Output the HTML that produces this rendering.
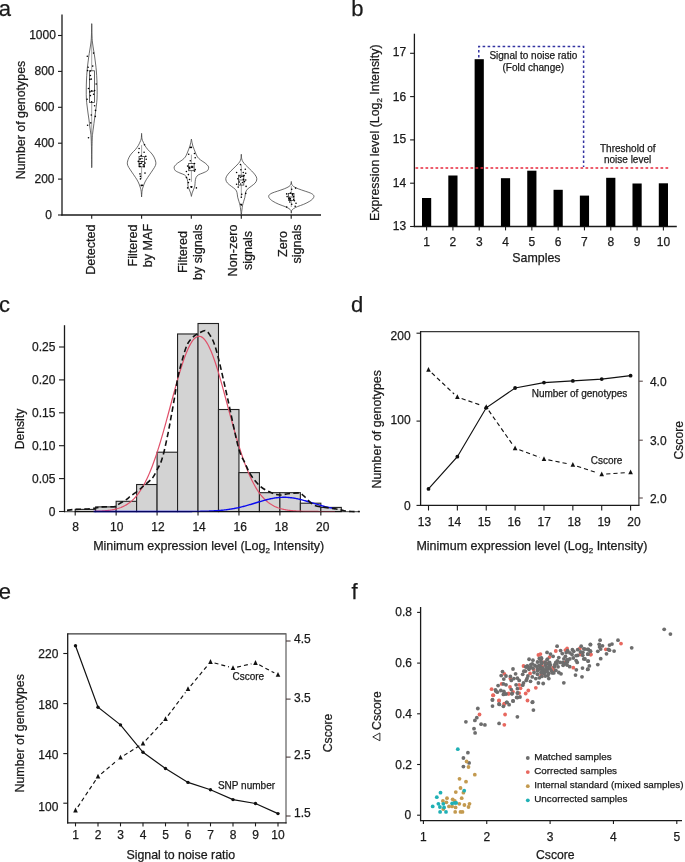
<!DOCTYPE html>
<html><head><meta charset="utf-8"><style>
html,body{margin:0;padding:0;background:#fff;}
body{width:685px;height:862px;overflow:hidden;}
svg{display:block;font-family:"Liberation Sans", sans-serif;will-change:transform;}
text{stroke:#1a1a1a;stroke-width:0.25px;}
</style></head><body>
<svg width="685" height="862" viewBox="0 0 685 862">
<rect width="685" height="862" fill="#fff"/>
<text x="-1.20" y="15.80" font-size="22" text-anchor="start" fill="#1a1a1a">a</text>
<text x="351.20" y="16.30" font-size="22" text-anchor="start" fill="#1a1a1a">b</text>
<text x="-1.00" y="311.80" font-size="22" text-anchor="start" fill="#1a1a1a">c</text>
<text x="350.90" y="312.10" font-size="22" text-anchor="start" fill="#1a1a1a">d</text>
<text x="-1.30" y="599.00" font-size="22" text-anchor="start" fill="#1a1a1a">e</text>
<text x="351.60" y="598.60" font-size="22" text-anchor="start" fill="#1a1a1a">f</text>
<line x1="62.00" y1="14.60" x2="62.00" y2="215.60" stroke="#1a1a1a" stroke-width="1.3"/>
<line x1="61.40" y1="215.00" x2="321.00" y2="215.00" stroke="#1a1a1a" stroke-width="1.3"/>
<line x1="58.00" y1="215.00" x2="62.00" y2="215.00" stroke="#1a1a1a" stroke-width="1.1"/>
<text x="52.00" y="219.00" font-size="12" text-anchor="end" fill="#1a1a1a">0</text>
<line x1="58.00" y1="179.10" x2="62.00" y2="179.10" stroke="#1a1a1a" stroke-width="1.1"/>
<text x="54.50" y="183.10" font-size="12" text-anchor="end" fill="#1a1a1a">200</text>
<line x1="58.00" y1="143.20" x2="62.00" y2="143.20" stroke="#1a1a1a" stroke-width="1.1"/>
<text x="54.50" y="146.90" font-size="12" text-anchor="end" fill="#1a1a1a">400</text>
<line x1="58.00" y1="107.30" x2="62.00" y2="107.30" stroke="#1a1a1a" stroke-width="1.1"/>
<text x="54.50" y="111.00" font-size="12" text-anchor="end" fill="#1a1a1a">600</text>
<line x1="58.00" y1="71.40" x2="62.00" y2="71.40" stroke="#1a1a1a" stroke-width="1.1"/>
<text x="54.50" y="74.80" font-size="12" text-anchor="end" fill="#1a1a1a">800</text>
<line x1="58.00" y1="35.50" x2="62.00" y2="35.50" stroke="#1a1a1a" stroke-width="1.1"/>
<text x="55.90" y="38.70" font-size="12" text-anchor="end" fill="#1a1a1a">1000</text>
<text x="25.20" y="120.00" font-size="12.4" text-anchor="middle" fill="#1a1a1a" transform="rotate(-90 25.2 120.0)">Number of genotypes</text>
<line x1="91.70" y1="215.00" x2="91.70" y2="218.80" stroke="#1a1a1a" stroke-width="1.1"/>
<line x1="141.60" y1="215.00" x2="141.60" y2="218.80" stroke="#1a1a1a" stroke-width="1.1"/>
<line x1="191.30" y1="215.00" x2="191.30" y2="218.80" stroke="#1a1a1a" stroke-width="1.1"/>
<line x1="241.30" y1="215.00" x2="241.30" y2="218.80" stroke="#1a1a1a" stroke-width="1.1"/>
<line x1="291.20" y1="215.00" x2="291.20" y2="218.80" stroke="#1a1a1a" stroke-width="1.1"/>
<text x="94.80" y="249.60" font-size="12.6" text-anchor="middle" fill="#1a1a1a" transform="rotate(-90 94.8 249.60000000000002)">Detected</text>
<text x="137.20" y="245.50" font-size="12.6" text-anchor="middle" fill="#1a1a1a" transform="rotate(-90 137.2 245.5)">Filtered</text>
<text x="151.90" y="245.50" font-size="12.6" text-anchor="middle" fill="#1a1a1a" transform="rotate(-90 151.9 245.5)">by MAF</text>
<text x="186.90" y="252.10" font-size="12.6" text-anchor="middle" fill="#1a1a1a" transform="rotate(-90 186.9 252.10000000000002)">Filtered</text>
<text x="201.60" y="252.10" font-size="12.6" text-anchor="middle" fill="#1a1a1a" transform="rotate(-90 201.60000000000002 252.10000000000002)">by signals</text>
<text x="236.90" y="250.50" font-size="12.6" text-anchor="middle" fill="#1a1a1a" transform="rotate(-90 236.9 250.5)">Non-zero</text>
<text x="251.60" y="250.50" font-size="12.6" text-anchor="middle" fill="#1a1a1a" transform="rotate(-90 251.60000000000002 250.5)">signals</text>
<text x="286.80" y="243.95" font-size="12.6" text-anchor="middle" fill="#1a1a1a" transform="rotate(-90 286.8 243.95000000000002)">Zero</text>
<text x="301.50" y="243.95" font-size="12.6" text-anchor="middle" fill="#1a1a1a" transform="rotate(-90 301.5 243.95000000000002)">signals</text>
<path d="M91.70,23.70 C91.74,25.58 91.83,31.95 91.95,35.00 C92.07,38.05 92.12,39.50 92.40,42.00 C92.68,44.50 93.22,47.50 93.60,50.00 C93.98,52.50 94.37,54.67 94.70,57.00 C95.03,59.33 95.33,61.67 95.60,64.00 C95.88,66.33 96.13,68.33 96.35,71.00 C96.57,73.67 96.77,76.83 96.90,80.00 C97.03,83.17 97.13,86.83 97.15,90.00 C97.17,93.17 97.14,96.33 97.00,99.00 C96.86,101.67 96.57,103.67 96.30,106.00 C96.03,108.33 95.72,110.67 95.40,113.00 C95.08,115.33 94.72,117.67 94.40,120.00 C94.08,122.33 93.78,124.83 93.50,127.00 C93.22,129.17 92.92,131.00 92.70,133.00 C92.48,135.00 92.33,136.17 92.20,139.00 C92.07,141.83 91.98,145.23 91.90,150.00 C91.82,154.77 91.73,164.67 91.70,167.60 L91.70,167.60 C91.67,164.67 91.58,154.77 91.50,150.00 C91.42,145.23 91.33,141.83 91.20,139.00 C91.07,136.17 90.92,135.00 90.70,133.00 C90.48,131.00 90.18,129.17 89.90,127.00 C89.62,124.83 89.32,122.33 89.00,120.00 C88.68,117.67 88.32,115.33 88.00,113.00 C87.68,110.67 87.37,108.33 87.10,106.00 C86.83,103.67 86.54,101.67 86.40,99.00 C86.26,96.33 86.23,93.17 86.25,90.00 C86.27,86.83 86.37,83.17 86.50,80.00 C86.63,76.83 86.83,73.67 87.05,71.00 C87.27,68.33 87.52,66.33 87.80,64.00 C88.08,61.67 88.37,59.33 88.70,57.00 C89.03,54.67 89.42,52.50 89.80,50.00 C90.18,47.50 90.72,44.50 91.00,42.00 C91.28,39.50 91.33,38.05 91.45,35.00 C91.57,31.95 91.66,25.58 91.70,23.70 Z" fill="none" stroke="#3a3a3a" stroke-width="0.75"/>
<line x1="91.70" y1="23.70" x2="91.70" y2="70.80" stroke="#666" stroke-width="0.6"/>
<line x1="91.70" y1="102.50" x2="91.70" y2="167.60" stroke="#666" stroke-width="0.6"/>
<rect x="89.50" y="70.80" width="5.10" height="31.70" fill="none" stroke="#333" stroke-width="0.75"/>
<line x1="89.50" y1="91.20" x2="94.60" y2="91.20" stroke="#333" stroke-width="0.75"/>
<path d="M141.60,133.40 C141.67,134.32 141.72,137.43 142.00,138.90 C142.28,140.37 142.82,141.10 143.30,142.20 C143.78,143.30 144.13,144.25 144.90,145.50 C145.67,146.75 146.85,148.45 147.90,149.70 C148.95,150.95 150.17,151.75 151.20,153.00 C152.23,154.25 153.33,155.67 154.10,157.20 C154.87,158.73 155.58,160.80 155.80,162.20 C156.02,163.60 155.88,164.33 155.40,165.60 C154.92,166.87 153.88,168.27 152.90,169.80 C151.92,171.33 150.62,173.13 149.50,174.80 C148.38,176.47 147.10,178.27 146.20,179.80 C145.30,181.33 144.68,182.62 144.10,184.00 C143.52,185.38 143.05,186.85 142.70,188.10 C142.35,189.35 142.18,190.03 142.00,191.50 C141.82,192.97 141.67,196.00 141.60,196.90 L141.60,196.90 C141.53,196.00 141.38,192.97 141.20,191.50 C141.02,190.03 140.85,189.35 140.50,188.10 C140.15,186.85 139.68,185.38 139.10,184.00 C138.52,182.62 137.90,181.33 137.00,179.80 C136.10,178.27 134.82,176.47 133.70,174.80 C132.58,173.13 131.28,171.33 130.30,169.80 C129.32,168.27 128.28,166.87 127.80,165.60 C127.32,164.33 127.18,163.60 127.40,162.20 C127.62,160.80 128.33,158.73 129.10,157.20 C129.87,155.67 130.97,154.25 132.00,153.00 C133.03,151.75 134.25,150.95 135.30,149.70 C136.35,148.45 137.53,146.75 138.30,145.50 C139.07,144.25 139.42,143.30 139.90,142.20 C140.38,141.10 140.92,140.37 141.20,138.90 C141.48,137.43 141.53,134.32 141.60,133.40 Z" fill="none" stroke="#3a3a3a" stroke-width="0.75"/>
<line x1="141.60" y1="145.10" x2="141.60" y2="156.40" stroke="#666" stroke-width="0.6"/>
<line x1="141.60" y1="166.80" x2="141.60" y2="178.90" stroke="#666" stroke-width="0.6"/>
<rect x="139.00" y="156.40" width="5.40" height="10.40" fill="none" stroke="#333" stroke-width="0.75"/>
<line x1="139.00" y1="161.50" x2="144.40" y2="161.50" stroke="#333" stroke-width="0.75"/>
<path d="M191.40,139.00 C191.50,139.57 191.75,141.20 192.00,142.40 C192.25,143.60 192.55,145.05 192.90,146.20 C193.25,147.35 193.65,148.15 194.10,149.30 C194.55,150.45 195.03,151.82 195.60,153.10 C196.17,154.38 196.67,155.85 197.50,157.00 C198.33,158.15 199.32,158.98 200.60,160.00 C201.88,161.02 203.93,162.08 205.20,163.10 C206.47,164.12 207.63,165.28 208.20,166.10 C208.77,166.92 208.73,167.23 208.60,168.00 C208.47,168.77 208.35,169.87 207.40,170.70 C206.45,171.53 204.42,172.30 202.90,173.00 C201.38,173.70 199.45,174.13 198.30,174.90 C197.15,175.67 196.52,176.52 196.00,177.60 C195.48,178.68 195.40,180.00 195.20,181.40 C195.00,182.80 195.05,184.72 194.80,186.00 C194.55,187.28 194.13,187.95 193.70,189.10 C193.27,190.25 192.58,191.68 192.20,192.90 C191.82,194.12 191.53,195.82 191.40,196.40 L191.40,196.40 C191.27,195.82 190.98,194.12 190.60,192.90 C190.22,191.68 189.53,190.25 189.10,189.10 C188.67,187.95 188.25,187.28 188.00,186.00 C187.75,184.72 187.80,182.80 187.60,181.40 C187.40,180.00 187.32,178.68 186.80,177.60 C186.28,176.52 185.65,175.67 184.50,174.90 C183.35,174.13 181.42,173.70 179.90,173.00 C178.38,172.30 176.35,171.53 175.40,170.70 C174.45,169.87 174.33,168.77 174.20,168.00 C174.07,167.23 174.03,166.92 174.60,166.10 C175.17,165.28 176.33,164.12 177.60,163.10 C178.87,162.08 180.92,161.02 182.20,160.00 C183.48,158.98 184.47,158.15 185.30,157.00 C186.13,155.85 186.63,154.38 187.20,153.10 C187.77,151.82 188.25,150.45 188.70,149.30 C189.15,148.15 189.55,147.35 189.90,146.20 C190.25,145.05 190.55,143.60 190.80,142.40 C191.05,141.20 191.30,139.57 191.40,139.00 Z" fill="none" stroke="#3a3a3a" stroke-width="0.75"/>
<line x1="191.40" y1="154.70" x2="191.40" y2="163.50" stroke="#666" stroke-width="0.6"/>
<line x1="191.40" y1="170.70" x2="191.40" y2="181.80" stroke="#666" stroke-width="0.6"/>
<rect x="188.70" y="163.50" width="5.40" height="7.20" fill="none" stroke="#333" stroke-width="0.75"/>
<line x1="188.70" y1="167.00" x2="194.10" y2="167.00" stroke="#333" stroke-width="0.75"/>
<path d="M241.30,154.30 C241.37,155.03 241.43,157.45 241.70,158.70 C241.97,159.95 242.25,160.75 242.90,161.80 C243.55,162.85 244.48,163.82 245.60,165.00 C246.72,166.18 248.28,167.58 249.60,168.90 C250.92,170.22 252.38,171.58 253.50,172.90 C254.62,174.22 255.77,175.62 256.30,176.80 C256.83,177.98 256.90,178.95 256.70,180.00 C256.50,181.05 256.02,182.05 255.10,183.10 C254.18,184.15 252.52,185.25 251.20,186.30 C249.88,187.35 248.13,188.35 247.20,189.40 C246.27,190.45 245.98,191.28 245.60,192.60 C245.22,193.92 245.22,195.85 244.90,197.30 C244.58,198.75 244.08,199.98 243.70,201.30 C243.32,202.62 242.90,203.75 242.60,205.20 C242.30,206.65 242.12,208.37 241.90,210.00 C241.68,211.63 241.40,214.17 241.30,215.00 L241.30,215.00 C241.20,214.17 240.92,211.63 240.70,210.00 C240.48,208.37 240.30,206.65 240.00,205.20 C239.70,203.75 239.28,202.62 238.90,201.30 C238.52,199.98 238.02,198.75 237.70,197.30 C237.38,195.85 237.38,193.92 237.00,192.60 C236.62,191.28 236.33,190.45 235.40,189.40 C234.47,188.35 232.72,187.35 231.40,186.30 C230.08,185.25 228.42,184.15 227.50,183.10 C226.58,182.05 226.10,181.05 225.90,180.00 C225.70,178.95 225.77,177.98 226.30,176.80 C226.83,175.62 227.98,174.22 229.10,172.90 C230.22,171.58 231.68,170.22 233.00,168.90 C234.32,167.58 235.88,166.18 237.00,165.00 C238.12,163.82 239.05,162.85 239.70,161.80 C240.35,160.75 240.63,159.95 240.90,158.70 C241.17,157.45 241.23,155.03 241.30,154.30 Z" fill="none" stroke="#3a3a3a" stroke-width="0.75"/>
<line x1="241.30" y1="165.00" x2="241.30" y2="175.20" stroke="#666" stroke-width="0.6"/>
<line x1="241.30" y1="185.10" x2="241.30" y2="197.30" stroke="#666" stroke-width="0.6"/>
<rect x="238.60" y="175.20" width="5.20" height="9.90" fill="none" stroke="#333" stroke-width="0.75"/>
<line x1="238.60" y1="180.00" x2="243.80" y2="180.00" stroke="#333" stroke-width="0.75"/>
<path d="M291.30,181.50 C291.37,181.95 291.32,183.37 291.70,184.20 C292.08,185.03 292.50,185.73 293.60,186.50 C294.70,187.27 296.37,188.02 298.30,188.80 C300.23,189.58 303.15,190.48 305.20,191.20 C307.25,191.92 309.18,192.40 310.60,193.10 C312.02,193.80 313.25,194.57 313.70,195.40 C314.15,196.23 313.95,197.13 313.30,198.10 C312.65,199.07 311.40,200.17 309.80,201.20 C308.20,202.23 305.75,203.40 303.70,204.30 C301.65,205.20 299.18,205.88 297.50,206.60 C295.82,207.32 294.57,207.95 293.60,208.60 C292.63,209.25 292.08,209.73 291.70,210.50 C291.32,211.27 291.37,212.75 291.30,213.20 L291.30,213.20 C291.23,212.75 291.28,211.27 290.90,210.50 C290.52,209.73 289.97,209.25 289.00,208.60 C288.03,207.95 286.78,207.32 285.10,206.60 C283.42,205.88 280.95,205.20 278.90,204.30 C276.85,203.40 274.40,202.23 272.80,201.20 C271.20,200.17 269.95,199.07 269.30,198.10 C268.65,197.13 268.45,196.23 268.90,195.40 C269.35,194.57 270.58,193.80 272.00,193.10 C273.42,192.40 275.35,191.92 277.40,191.20 C279.45,190.48 282.37,189.58 284.30,188.80 C286.23,188.02 287.90,187.27 289.00,186.50 C290.10,185.73 290.52,185.03 290.90,184.20 C291.28,183.37 291.23,181.95 291.30,181.50 Z" fill="none" stroke="#3a3a3a" stroke-width="0.75"/>
<line x1="291.30" y1="186.00" x2="291.30" y2="193.50" stroke="#666" stroke-width="0.6"/>
<line x1="291.30" y1="200.40" x2="291.30" y2="207.00" stroke="#666" stroke-width="0.6"/>
<rect x="288.60" y="193.50" width="5.40" height="6.90" fill="none" stroke="#333" stroke-width="0.75"/>
<line x1="288.60" y1="197.00" x2="294.00" y2="197.00" stroke="#333" stroke-width="0.75"/>
<circle cx="87.30" cy="56.20" r="0.8" fill="#000"/>
<circle cx="93.60" cy="53.10" r="0.8" fill="#000"/>
<circle cx="92.70" cy="66.10" r="0.8" fill="#000"/>
<circle cx="88.10" cy="67.30" r="0.8" fill="#000"/>
<circle cx="87.60" cy="70.60" r="0.8" fill="#000"/>
<circle cx="90.40" cy="71.00" r="0.8" fill="#000"/>
<circle cx="90.40" cy="75.50" r="0.8" fill="#000"/>
<circle cx="89.90" cy="79.40" r="0.8" fill="#000"/>
<circle cx="91.30" cy="79.10" r="0.8" fill="#000"/>
<circle cx="96.20" cy="84.00" r="0.8" fill="#000"/>
<circle cx="88.50" cy="88.50" r="0.8" fill="#000"/>
<circle cx="89.90" cy="91.90" r="0.8" fill="#000"/>
<circle cx="94.60" cy="90.50" r="0.8" fill="#000"/>
<circle cx="90.40" cy="95.60" r="0.8" fill="#000"/>
<circle cx="93.60" cy="94.20" r="0.8" fill="#000"/>
<circle cx="87.10" cy="99.30" r="0.8" fill="#000"/>
<circle cx="91.80" cy="90.90" r="0.8" fill="#000"/>
<circle cx="91.60" cy="101.90" r="0.8" fill="#000"/>
<circle cx="94.60" cy="105.80" r="0.8" fill="#000"/>
<circle cx="95.50" cy="110.40" r="0.8" fill="#000"/>
<circle cx="91.30" cy="115.00" r="0.8" fill="#000"/>
<circle cx="95.30" cy="116.40" r="0.8" fill="#000"/>
<circle cx="90.80" cy="122.90" r="0.8" fill="#000"/>
<circle cx="87.60" cy="125.30" r="0.8" fill="#000"/>
<circle cx="88.50" cy="137.80" r="0.8" fill="#000"/>
<circle cx="144.50" cy="144.70" r="0.8" fill="#000"/>
<circle cx="139.10" cy="148.50" r="0.8" fill="#000"/>
<circle cx="138.70" cy="152.60" r="0.8" fill="#000"/>
<circle cx="144.10" cy="152.20" r="0.8" fill="#000"/>
<circle cx="141.20" cy="155.60" r="0.8" fill="#000"/>
<circle cx="145.80" cy="156.40" r="0.8" fill="#000"/>
<circle cx="140.00" cy="159.30" r="0.8" fill="#000"/>
<circle cx="146.20" cy="159.30" r="0.8" fill="#000"/>
<circle cx="138.30" cy="161.40" r="0.8" fill="#000"/>
<circle cx="142.00" cy="161.80" r="0.8" fill="#000"/>
<circle cx="145.00" cy="163.10" r="0.8" fill="#000"/>
<circle cx="139.50" cy="163.90" r="0.8" fill="#000"/>
<circle cx="143.30" cy="164.70" r="0.8" fill="#000"/>
<circle cx="144.10" cy="166.80" r="0.8" fill="#000"/>
<circle cx="139.50" cy="166.40" r="0.8" fill="#000"/>
<circle cx="145.00" cy="173.10" r="0.8" fill="#000"/>
<circle cx="140.00" cy="173.90" r="0.8" fill="#000"/>
<circle cx="140.40" cy="176.40" r="0.8" fill="#000"/>
<circle cx="140.40" cy="178.90" r="0.8" fill="#000"/>
<circle cx="141.20" cy="185.20" r="0.8" fill="#000"/>
<circle cx="142.50" cy="185.20" r="0.8" fill="#000"/>
<circle cx="141.80" cy="185.60" r="0.8" fill="#000"/>
<circle cx="142.01" cy="158.43" r="0.7" fill="#000"/>
<circle cx="143.93" cy="166.01" r="0.7" fill="#000"/>
<circle cx="141.44" cy="163.30" r="0.7" fill="#000"/>
<circle cx="140.17" cy="158.71" r="0.7" fill="#000"/>
<circle cx="140.54" cy="163.60" r="0.7" fill="#000"/>
<circle cx="140.16" cy="166.50" r="0.7" fill="#000"/>
<circle cx="190.30" cy="147.40" r="0.8" fill="#000"/>
<circle cx="191.40" cy="147.40" r="0.8" fill="#000"/>
<circle cx="188.70" cy="154.30" r="0.8" fill="#000"/>
<circle cx="194.50" cy="153.50" r="0.8" fill="#000"/>
<circle cx="195.20" cy="157.70" r="0.8" fill="#000"/>
<circle cx="190.30" cy="160.80" r="0.8" fill="#000"/>
<circle cx="194.50" cy="163.50" r="0.8" fill="#000"/>
<circle cx="187.60" cy="166.10" r="0.8" fill="#000"/>
<circle cx="189.50" cy="167.70" r="0.8" fill="#000"/>
<circle cx="192.20" cy="166.90" r="0.8" fill="#000"/>
<circle cx="195.20" cy="169.60" r="0.8" fill="#000"/>
<circle cx="186.40" cy="171.50" r="0.8" fill="#000"/>
<circle cx="194.50" cy="171.10" r="0.8" fill="#000"/>
<circle cx="188.40" cy="174.60" r="0.8" fill="#000"/>
<circle cx="189.50" cy="179.50" r="0.8" fill="#000"/>
<circle cx="186.40" cy="177.60" r="0.8" fill="#000"/>
<circle cx="188.40" cy="182.60" r="0.8" fill="#000"/>
<circle cx="191.00" cy="186.80" r="0.8" fill="#000"/>
<circle cx="191.80" cy="186.80" r="0.8" fill="#000"/>
<circle cx="187.60" cy="187.90" r="0.8" fill="#000"/>
<circle cx="196.40" cy="187.90" r="0.8" fill="#000"/>
<circle cx="191.40" cy="187.30" r="0.8" fill="#000"/>
<circle cx="189.64" cy="167.93" r="0.7" fill="#000"/>
<circle cx="189.75" cy="168.63" r="0.7" fill="#000"/>
<circle cx="191.94" cy="166.27" r="0.7" fill="#000"/>
<circle cx="191.99" cy="167.58" r="0.7" fill="#000"/>
<circle cx="189.12" cy="167.32" r="0.7" fill="#000"/>
<circle cx="192.00" cy="167.24" r="0.7" fill="#000"/>
<circle cx="240.50" cy="164.60" r="0.8" fill="#000"/>
<circle cx="240.90" cy="169.70" r="0.8" fill="#000"/>
<circle cx="245.30" cy="169.30" r="0.8" fill="#000"/>
<circle cx="236.60" cy="172.50" r="0.8" fill="#000"/>
<circle cx="243.30" cy="172.50" r="0.8" fill="#000"/>
<circle cx="245.70" cy="173.30" r="0.8" fill="#000"/>
<circle cx="244.10" cy="175.60" r="0.8" fill="#000"/>
<circle cx="240.50" cy="177.20" r="0.8" fill="#000"/>
<circle cx="237.80" cy="178.80" r="0.8" fill="#000"/>
<circle cx="243.30" cy="179.20" r="0.8" fill="#000"/>
<circle cx="245.70" cy="180.00" r="0.8" fill="#000"/>
<circle cx="239.40" cy="182.00" r="0.8" fill="#000"/>
<circle cx="244.50" cy="181.60" r="0.8" fill="#000"/>
<circle cx="236.60" cy="184.30" r="0.8" fill="#000"/>
<circle cx="238.20" cy="187.10" r="0.8" fill="#000"/>
<circle cx="246.10" cy="186.40" r="0.8" fill="#000"/>
<circle cx="241.70" cy="194.20" r="0.8" fill="#000"/>
<circle cx="245.70" cy="193.40" r="0.8" fill="#000"/>
<circle cx="241.30" cy="197.30" r="0.8" fill="#000"/>
<circle cx="240.90" cy="204.40" r="0.8" fill="#000"/>
<circle cx="241.50" cy="204.90" r="0.8" fill="#000"/>
<circle cx="243.70" cy="179.72" r="0.7" fill="#000"/>
<circle cx="242.39" cy="182.48" r="0.7" fill="#000"/>
<circle cx="239.87" cy="175.97" r="0.7" fill="#000"/>
<circle cx="241.81" cy="176.41" r="0.7" fill="#000"/>
<circle cx="240.71" cy="184.01" r="0.7" fill="#000"/>
<circle cx="243.16" cy="176.38" r="0.7" fill="#000"/>
<circle cx="291.70" cy="189.20" r="0.8" fill="#000"/>
<circle cx="290.50" cy="193.10" r="0.8" fill="#000"/>
<circle cx="286.70" cy="193.90" r="0.8" fill="#000"/>
<circle cx="287.10" cy="196.60" r="0.8" fill="#000"/>
<circle cx="292.50" cy="194.60" r="0.8" fill="#000"/>
<circle cx="293.60" cy="196.60" r="0.8" fill="#000"/>
<circle cx="289.00" cy="198.50" r="0.8" fill="#000"/>
<circle cx="290.50" cy="200.10" r="0.8" fill="#000"/>
<circle cx="294.40" cy="200.80" r="0.8" fill="#000"/>
<circle cx="289.80" cy="202.00" r="0.8" fill="#000"/>
<circle cx="296.00" cy="203.20" r="0.8" fill="#000"/>
<circle cx="291.70" cy="204.30" r="0.8" fill="#000"/>
<circle cx="295.60" cy="188.10" r="0.8" fill="#000"/>
<circle cx="286.70" cy="207.00" r="0.8" fill="#000"/>
<circle cx="295.20" cy="206.30" r="0.8" fill="#000"/>
<circle cx="293.60" cy="199.52" r="0.7" fill="#000"/>
<circle cx="292.46" cy="195.07" r="0.7" fill="#000"/>
<circle cx="290.45" cy="198.43" r="0.7" fill="#000"/>
<circle cx="292.83" cy="193.62" r="0.7" fill="#000"/>
<circle cx="289.63" cy="199.68" r="0.7" fill="#000"/>
<circle cx="289.39" cy="198.02" r="0.7" fill="#000"/>
<line x1="414.40" y1="33.70" x2="414.40" y2="227.10" stroke="#1a1a1a" stroke-width="1.3"/>
<line x1="413.80" y1="226.50" x2="676.80" y2="226.50" stroke="#1a1a1a" stroke-width="1.3"/>
<line x1="410.10" y1="226.50" x2="414.40" y2="226.50" stroke="#1a1a1a" stroke-width="1.1"/>
<text x="406.20" y="230.00" font-size="12" text-anchor="end" fill="#1a1a1a">13</text>
<line x1="410.10" y1="183.20" x2="414.40" y2="183.20" stroke="#1a1a1a" stroke-width="1.1"/>
<text x="406.20" y="186.50" font-size="12" text-anchor="end" fill="#1a1a1a">14</text>
<line x1="410.10" y1="139.90" x2="414.40" y2="139.90" stroke="#1a1a1a" stroke-width="1.1"/>
<text x="406.20" y="143.00" font-size="12" text-anchor="end" fill="#1a1a1a">15</text>
<line x1="410.10" y1="96.60" x2="414.40" y2="96.60" stroke="#1a1a1a" stroke-width="1.1"/>
<text x="406.20" y="100.70" font-size="12" text-anchor="end" fill="#1a1a1a">16</text>
<line x1="410.10" y1="53.30" x2="414.40" y2="53.30" stroke="#1a1a1a" stroke-width="1.1"/>
<text x="406.20" y="55.50" font-size="12" text-anchor="end" fill="#1a1a1a">17</text>
<rect x="422.00" y="198.00" width="9.2" height="28.50" fill="#000"/>
<line x1="426.60" y1="226.50" x2="426.60" y2="230.40" stroke="#1a1a1a" stroke-width="1.1"/>
<text x="426.60" y="245.60" font-size="12" text-anchor="middle" fill="#1a1a1a">1</text>
<rect x="448.31" y="175.50" width="9.2" height="51.00" fill="#000"/>
<line x1="452.91" y1="226.50" x2="452.91" y2="230.40" stroke="#1a1a1a" stroke-width="1.1"/>
<text x="452.91" y="245.60" font-size="12" text-anchor="middle" fill="#1a1a1a">2</text>
<rect x="474.62" y="59.20" width="9.2" height="167.30" fill="#000"/>
<line x1="479.22" y1="226.50" x2="479.22" y2="230.40" stroke="#1a1a1a" stroke-width="1.1"/>
<text x="479.22" y="245.60" font-size="12" text-anchor="middle" fill="#1a1a1a">3</text>
<rect x="500.93" y="178.20" width="9.2" height="48.30" fill="#000"/>
<line x1="505.53" y1="226.50" x2="505.53" y2="230.40" stroke="#1a1a1a" stroke-width="1.1"/>
<text x="505.53" y="245.60" font-size="12" text-anchor="middle" fill="#1a1a1a">4</text>
<rect x="527.24" y="170.70" width="9.2" height="55.80" fill="#000"/>
<line x1="531.84" y1="226.50" x2="531.84" y2="230.40" stroke="#1a1a1a" stroke-width="1.1"/>
<text x="531.84" y="245.60" font-size="12" text-anchor="middle" fill="#1a1a1a">5</text>
<rect x="553.55" y="189.80" width="9.2" height="36.70" fill="#000"/>
<line x1="558.15" y1="226.50" x2="558.15" y2="230.40" stroke="#1a1a1a" stroke-width="1.1"/>
<text x="558.15" y="245.60" font-size="12" text-anchor="middle" fill="#1a1a1a">6</text>
<rect x="579.86" y="195.60" width="9.2" height="30.90" fill="#000"/>
<line x1="584.46" y1="226.50" x2="584.46" y2="230.40" stroke="#1a1a1a" stroke-width="1.1"/>
<text x="584.46" y="245.60" font-size="12" text-anchor="middle" fill="#1a1a1a">7</text>
<rect x="606.17" y="177.80" width="9.2" height="48.70" fill="#000"/>
<line x1="610.77" y1="226.50" x2="610.77" y2="230.40" stroke="#1a1a1a" stroke-width="1.1"/>
<text x="610.77" y="245.60" font-size="12" text-anchor="middle" fill="#1a1a1a">8</text>
<rect x="632.48" y="183.50" width="9.2" height="43.00" fill="#000"/>
<line x1="637.08" y1="226.50" x2="637.08" y2="230.40" stroke="#1a1a1a" stroke-width="1.1"/>
<text x="637.08" y="245.60" font-size="12" text-anchor="middle" fill="#1a1a1a">9</text>
<rect x="658.79" y="183.30" width="9.2" height="43.20" fill="#000"/>
<line x1="663.39" y1="226.50" x2="663.39" y2="230.40" stroke="#1a1a1a" stroke-width="1.1"/>
<text x="663.39" y="245.60" font-size="12" text-anchor="middle" fill="#1a1a1a">10</text>
<text x="536.40" y="262.40" font-size="12.4" text-anchor="middle" fill="#1a1a1a">Samples</text>
<text x="379.20" y="132.70" font-size="12.4" text-anchor="middle" fill="#1a1a1a" transform="rotate(-90 379.2 132.7)">Expression level (Log<tspan font-size="8" dy="3">2</tspan><tspan dy="-3"> Intensity)</tspan></text>
<line x1="415.50" y1="167.90" x2="668.50" y2="167.90" stroke="#e8283c" stroke-width="1.5" stroke-dasharray="2.7 2.3"/>
<path d="M478.80,57.60 L478.80,46.40 L583.60,46.40 L583.60,167.00" stroke="#3232a0" stroke-width="1.5" fill="none" stroke-dasharray="2.6 2.4"/>
<text x="533.30" y="59.00" font-size="10" text-anchor="middle" fill="#1a1a1a">Signal to noise ratio</text>
<text x="533.30" y="71.10" font-size="10" text-anchor="middle" fill="#1a1a1a">(Fold change)</text>
<text x="627.80" y="151.50" font-size="10" text-anchor="middle" fill="#1a1a1a">Threshold of</text>
<text x="627.60" y="163.40" font-size="10" text-anchor="middle" fill="#1a1a1a">noise level</text>
<line x1="64.50" y1="325.20" x2="64.50" y2="512.20" stroke="#1a1a1a" stroke-width="1.3"/>
<line x1="59.00" y1="511.50" x2="64.50" y2="511.50" stroke="#1a1a1a" stroke-width="1.1"/>
<text x="55.40" y="515.90" font-size="12" text-anchor="end" fill="#1a1a1a">0</text>
<line x1="59.00" y1="478.60" x2="64.50" y2="478.60" stroke="#1a1a1a" stroke-width="1.1"/>
<text x="55.40" y="483.00" font-size="12" text-anchor="end" fill="#1a1a1a">0.05</text>
<line x1="59.00" y1="445.70" x2="64.50" y2="445.70" stroke="#1a1a1a" stroke-width="1.1"/>
<text x="55.40" y="450.10" font-size="12" text-anchor="end" fill="#1a1a1a">0.10</text>
<line x1="59.00" y1="412.80" x2="64.50" y2="412.80" stroke="#1a1a1a" stroke-width="1.1"/>
<text x="55.40" y="417.20" font-size="12" text-anchor="end" fill="#1a1a1a">0.15</text>
<line x1="59.00" y1="379.90" x2="64.50" y2="379.90" stroke="#1a1a1a" stroke-width="1.1"/>
<text x="55.40" y="384.30" font-size="12" text-anchor="end" fill="#1a1a1a">0.20</text>
<line x1="59.00" y1="347.00" x2="64.50" y2="347.00" stroke="#1a1a1a" stroke-width="1.1"/>
<text x="55.40" y="351.40" font-size="12" text-anchor="end" fill="#1a1a1a">0.25</text>
<text x="24.10" y="429.00" font-size="12.2" text-anchor="middle" fill="#1a1a1a" transform="rotate(-90 24.1 429.0)">Density</text>
<rect x="75.20" y="509.39" width="20.47" height="2.21" fill="#d3d3d3" stroke="#222" stroke-width="1.1"/>
<rect x="95.67" y="506.89" width="20.47" height="4.71" fill="#d3d3d3" stroke="#222" stroke-width="1.1"/>
<rect x="116.14" y="501.30" width="20.47" height="10.30" fill="#d3d3d3" stroke="#222" stroke-width="1.1"/>
<rect x="136.61" y="484.52" width="20.47" height="27.08" fill="#d3d3d3" stroke="#222" stroke-width="1.1"/>
<rect x="157.08" y="452.21" width="20.47" height="59.39" fill="#d3d3d3" stroke="#222" stroke-width="1.1"/>
<rect x="177.55" y="333.97" width="20.47" height="177.63" fill="#d3d3d3" stroke="#222" stroke-width="1.1"/>
<rect x="198.02" y="323.51" width="20.47" height="188.09" fill="#d3d3d3" stroke="#222" stroke-width="1.1"/>
<rect x="218.49" y="409.51" width="20.47" height="102.09" fill="#d3d3d3" stroke="#222" stroke-width="1.1"/>
<rect x="238.96" y="472.61" width="20.47" height="38.99" fill="#d3d3d3" stroke="#222" stroke-width="1.1"/>
<rect x="259.43" y="492.68" width="20.47" height="18.92" fill="#d3d3d3" stroke="#222" stroke-width="1.1"/>
<rect x="279.90" y="492.68" width="20.47" height="18.92" fill="#d3d3d3" stroke="#222" stroke-width="1.1"/>
<rect x="300.37" y="503.21" width="20.47" height="8.39" fill="#d3d3d3" stroke="#222" stroke-width="1.1"/>
<rect x="320.84" y="507.42" width="20.47" height="4.18" fill="#d3d3d3" stroke="#222" stroke-width="1.1"/>
<line x1="75.20" y1="511.60" x2="75.20" y2="515.60" stroke="#1a1a1a" stroke-width="1.1"/>
<text x="75.50" y="531.20" font-size="12" text-anchor="middle" fill="#1a1a1a">8</text>
<line x1="116.14" y1="511.60" x2="116.14" y2="515.60" stroke="#1a1a1a" stroke-width="1.1"/>
<text x="116.70" y="531.20" font-size="12" text-anchor="middle" fill="#1a1a1a">10</text>
<line x1="157.08" y1="511.60" x2="157.08" y2="515.60" stroke="#1a1a1a" stroke-width="1.1"/>
<text x="157.90" y="531.20" font-size="12" text-anchor="middle" fill="#1a1a1a">12</text>
<line x1="198.02" y1="511.60" x2="198.02" y2="515.60" stroke="#1a1a1a" stroke-width="1.1"/>
<text x="199.10" y="531.20" font-size="12" text-anchor="middle" fill="#1a1a1a">14</text>
<line x1="238.96" y1="511.60" x2="238.96" y2="515.60" stroke="#1a1a1a" stroke-width="1.1"/>
<text x="240.30" y="531.20" font-size="12" text-anchor="middle" fill="#1a1a1a">16</text>
<line x1="279.90" y1="511.60" x2="279.90" y2="515.60" stroke="#1a1a1a" stroke-width="1.1"/>
<text x="281.50" y="531.20" font-size="12" text-anchor="middle" fill="#1a1a1a">18</text>
<line x1="320.84" y1="511.60" x2="320.84" y2="515.60" stroke="#1a1a1a" stroke-width="1.1"/>
<text x="322.70" y="531.20" font-size="12" text-anchor="middle" fill="#1a1a1a">20</text>
<path d="M93.62,511.32 L94.43,511.30 L95.23,511.27 L96.04,511.25 L96.84,511.22 L97.65,511.19 L98.45,511.16 L99.25,511.13 L100.06,511.09 L100.86,511.04 L101.67,511.00 L102.47,510.95 L103.28,510.89 L104.08,510.83 L104.89,510.77 L105.69,510.69 L106.49,510.62 L107.30,510.53 L108.10,510.44 L108.91,510.34 L109.71,510.23 L110.52,510.11 L111.32,509.99 L112.13,509.85 L112.93,509.70 L113.73,509.54 L114.54,509.37 L115.34,509.19 L116.15,508.99 L116.95,508.77 L117.76,508.54 L118.56,508.29 L119.37,508.03 L120.17,507.74 L120.98,507.44 L121.78,507.11 L122.58,506.76 L123.39,506.39 L124.19,505.99 L125.00,505.57 L125.80,505.12 L126.61,504.64 L127.41,504.13 L128.22,503.59 L129.02,503.02 L129.82,502.41 L130.63,501.77 L131.43,501.09 L132.24,500.37 L133.04,499.61 L133.85,498.81 L134.65,497.97 L135.46,497.08 L136.26,496.14 L137.06,495.16 L137.87,494.13 L138.67,493.05 L139.48,491.91 L140.28,490.73 L141.09,489.49 L141.89,488.19 L142.70,486.84 L143.50,485.43 L144.30,483.96 L145.11,482.43 L145.91,480.85 L146.72,479.20 L147.52,477.49 L148.33,475.72 L149.13,473.88 L149.94,471.98 L150.74,470.02 L151.54,468.00 L152.35,465.92 L153.15,463.77 L153.96,461.57 L154.76,459.30 L155.57,456.97 L156.37,454.59 L157.18,452.15 L157.98,449.65 L158.79,447.10 L159.59,444.50 L160.39,441.85 L161.20,439.15 L162.00,436.41 L162.81,433.62 L163.61,430.80 L164.42,427.94 L165.22,425.05 L166.03,422.13 L166.83,419.19 L167.63,416.22 L168.44,413.24 L169.24,410.25 L170.05,407.25 L170.85,404.24 L171.66,401.24 L172.46,398.24 L173.27,395.26 L174.07,392.29 L174.87,389.34 L175.68,386.42 L176.48,383.54 L177.29,380.69 L178.09,377.88 L178.90,375.13 L179.70,372.42 L180.51,369.78 L181.31,367.20 L182.11,364.70 L182.92,362.27 L183.72,359.92 L184.53,357.65 L185.33,355.48 L186.14,353.40 L186.94,351.43 L187.75,349.56 L188.55,347.79 L189.36,346.14 L190.16,344.61 L190.96,343.20 L191.77,341.91 L192.57,340.75 L193.38,339.71 L194.18,338.81 L194.99,338.05 L195.79,337.42 L196.60,336.92 L197.40,336.57 L198.20,336.35 L199.01,336.27 L199.81,336.34 L200.62,336.54 L201.42,336.89 L202.23,337.37 L203.03,337.99 L203.84,338.74 L204.64,339.63 L205.44,340.65 L206.25,341.80 L207.05,343.08 L207.86,344.48 L208.66,346.01 L209.47,347.65 L210.27,349.40 L211.08,351.26 L211.88,353.23 L212.68,355.30 L213.49,357.46 L214.29,359.72 L215.10,362.06 L215.90,364.49 L216.71,366.99 L217.51,369.56 L218.32,372.19 L219.12,374.89 L219.92,377.64 L220.73,380.44 L221.53,383.29 L222.34,386.17 L223.14,389.09 L223.95,392.03 L224.75,395.00 L225.56,397.98 L226.36,400.98 L227.17,403.98 L227.97,406.99 L228.77,409.99 L229.58,412.98 L230.38,415.97 L231.19,418.93 L231.99,421.88 L232.80,424.80 L233.60,427.69 L234.41,430.55 L235.21,433.38 L236.01,436.17 L236.82,438.91 L237.62,441.62 L238.43,444.27 L239.23,446.88 L240.04,449.43 L240.84,451.93 L241.65,454.38 L242.45,456.77 L243.25,459.10 L244.06,461.37 L244.86,463.58 L245.67,465.74 L246.47,467.82 L247.28,469.85 L248.08,471.82 L248.89,473.72 L249.69,475.56 L250.49,477.34 L251.30,479.05 L252.10,480.71 L252.91,482.30 L253.71,483.83 L254.52,485.31 L255.32,486.72 L256.13,488.08 L256.93,489.38 L257.74,490.62 L258.54,491.81 L259.34,492.95 L260.15,494.04 L260.95,495.07 L261.76,496.06 L262.56,497.00 L263.37,497.89 L264.17,498.74 L264.98,499.54 L265.78,500.31 L266.58,501.03 L267.39,501.71 L268.19,502.36 L269.00,502.97 L269.80,503.54 L270.61,504.09 L271.41,504.60 L272.22,505.08 L273.02,505.53 L273.82,505.96 L274.63,506.36 L275.43,506.73 L276.24,507.08 L277.04,507.41 L277.85,507.72 L278.65,508.00 L279.46,508.27 L280.26,508.52 L281.06,508.75 L281.87,508.97 L282.67,509.17 L283.48,509.36 L284.28,509.53 L285.09,509.69 L285.89,509.84 L286.70,509.98 L287.50,510.10 L288.30,510.22 L289.11,510.33 L289.91,510.43 L290.72,510.52 L291.52,510.61 L292.33,510.69 L293.13,510.76 L293.94,510.83 L294.74,510.89 L295.55,510.94 L296.35,510.99 L297.15,511.04 L297.96,511.08 L298.76,511.12 L299.57,511.16 L300.37,511.19 L301.18,511.22 L301.98,511.25 L302.79,511.27 L303.59,511.29 L304.39,511.32 L305.20,511.33 L306.00,511.35 L306.81,511.37 L307.61,511.38 L308.42,511.39 L309.22,511.40 L310.03,511.41 L310.83,511.42 L311.63,511.43 L312.44,511.44 L313.24,511.44 L314.05,511.45 L314.85,511.46 L315.66,511.46 L316.46,511.46 L317.27,511.47 L318.07,511.47 L318.87,511.48 L319.68,511.48 L320.48,511.48 L321.29,511.48 L322.09,511.48 L322.90,511.49 L323.70,511.49 L324.51,511.49 L325.31,511.49 L326.12,511.49 L326.92,511.49 L327.72,511.49 L328.53,511.49 L329.33,511.50 L330.14,511.50 L330.94,511.50 L331.75,511.50 L332.55,511.50 L333.36,511.50 L334.16,511.50 L334.96,511.50" stroke="#e0506a" stroke-width="1.2" fill="none"/>
<path d="M93.62,511.50 L94.43,511.50 L95.23,511.50 L96.04,511.50 L96.84,511.50 L97.65,511.50 L98.45,511.50 L99.25,511.50 L100.06,511.50 L100.86,511.50 L101.67,511.50 L102.47,511.50 L103.28,511.50 L104.08,511.50 L104.89,511.50 L105.69,511.50 L106.49,511.50 L107.30,511.50 L108.10,511.50 L108.91,511.50 L109.71,511.50 L110.52,511.50 L111.32,511.50 L112.13,511.50 L112.93,511.50 L113.73,511.50 L114.54,511.50 L115.34,511.50 L116.15,511.50 L116.95,511.50 L117.76,511.50 L118.56,511.50 L119.37,511.50 L120.17,511.50 L120.98,511.50 L121.78,511.50 L122.58,511.50 L123.39,511.50 L124.19,511.50 L125.00,511.50 L125.80,511.50 L126.61,511.50 L127.41,511.50 L128.22,511.50 L129.02,511.50 L129.82,511.50 L130.63,511.50 L131.43,511.50 L132.24,511.50 L133.04,511.50 L133.85,511.50 L134.65,511.50 L135.46,511.50 L136.26,511.50 L137.06,511.50 L137.87,511.50 L138.67,511.50 L139.48,511.50 L140.28,511.50 L141.09,511.50 L141.89,511.50 L142.70,511.50 L143.50,511.50 L144.30,511.50 L145.11,511.50 L145.91,511.50 L146.72,511.50 L147.52,511.50 L148.33,511.50 L149.13,511.50 L149.94,511.50 L150.74,511.50 L151.54,511.50 L152.35,511.50 L153.15,511.50 L153.96,511.50 L154.76,511.50 L155.57,511.50 L156.37,511.50 L157.18,511.50 L157.98,511.50 L158.79,511.50 L159.59,511.50 L160.39,511.50 L161.20,511.50 L162.00,511.50 L162.81,511.50 L163.61,511.50 L164.42,511.50 L165.22,511.50 L166.03,511.50 L166.83,511.50 L167.63,511.50 L168.44,511.50 L169.24,511.50 L170.05,511.50 L170.85,511.50 L171.66,511.49 L172.46,511.49 L173.27,511.49 L174.07,511.49 L174.87,511.49 L175.68,511.49 L176.48,511.49 L177.29,511.49 L178.09,511.49 L178.90,511.49 L179.70,511.48 L180.51,511.48 L181.31,511.48 L182.11,511.48 L182.92,511.48 L183.72,511.47 L184.53,511.47 L185.33,511.47 L186.14,511.46 L186.94,511.46 L187.75,511.46 L188.55,511.45 L189.36,511.45 L190.16,511.44 L190.96,511.44 L191.77,511.43 L192.57,511.42 L193.38,511.42 L194.18,511.41 L194.99,511.40 L195.79,511.39 L196.60,511.38 L197.40,511.37 L198.20,511.36 L199.01,511.35 L199.81,511.33 L200.62,511.32 L201.42,511.30 L202.23,511.28 L203.03,511.27 L203.84,511.25 L204.64,511.23 L205.44,511.20 L206.25,511.18 L207.05,511.15 L207.86,511.12 L208.66,511.09 L209.47,511.06 L210.27,511.03 L211.08,510.99 L211.88,510.95 L212.68,510.91 L213.49,510.87 L214.29,510.82 L215.10,510.77 L215.90,510.72 L216.71,510.67 L217.51,510.61 L218.32,510.55 L219.12,510.48 L219.92,510.41 L220.73,510.34 L221.53,510.27 L222.34,510.19 L223.14,510.10 L223.95,510.02 L224.75,509.92 L225.56,509.83 L226.36,509.73 L227.17,509.62 L227.97,509.51 L228.77,509.40 L229.58,509.28 L230.38,509.15 L231.19,509.02 L231.99,508.89 L232.80,508.75 L233.60,508.61 L234.41,508.46 L235.21,508.30 L236.01,508.14 L236.82,507.98 L237.62,507.81 L238.43,507.63 L239.23,507.45 L240.04,507.26 L240.84,507.07 L241.65,506.88 L242.45,506.68 L243.25,506.48 L244.06,506.27 L244.86,506.05 L245.67,505.84 L246.47,505.62 L247.28,505.39 L248.08,505.17 L248.89,504.93 L249.69,504.70 L250.49,504.46 L251.30,504.23 L252.10,503.98 L252.91,503.74 L253.71,503.50 L254.52,503.25 L255.32,503.01 L256.13,502.76 L256.93,502.52 L257.74,502.27 L258.54,502.03 L259.34,501.79 L260.15,501.55 L260.95,501.31 L261.76,501.07 L262.56,500.84 L263.37,500.61 L264.17,500.39 L264.98,500.17 L265.78,499.95 L266.58,499.75 L267.39,499.54 L268.19,499.35 L269.00,499.16 L269.80,498.97 L270.61,498.80 L271.41,498.63 L272.22,498.47 L273.02,498.32 L273.82,498.18 L274.63,498.05 L275.43,497.93 L276.24,497.81 L277.04,497.71 L277.85,497.62 L278.65,497.54 L279.46,497.47 L280.26,497.41 L281.06,497.36 L281.87,497.33 L282.67,497.30 L283.48,497.29 L284.28,497.29 L285.09,497.30 L285.89,497.32 L286.70,497.35 L287.50,497.40 L288.30,497.45 L289.11,497.52 L289.91,497.60 L290.72,497.68 L291.52,497.78 L292.33,497.89 L293.13,498.01 L293.94,498.14 L294.74,498.28 L295.55,498.43 L296.35,498.58 L297.15,498.75 L297.96,498.92 L298.76,499.10 L299.57,499.29 L300.37,499.49 L301.18,499.69 L301.98,499.90 L302.79,500.11 L303.59,500.33 L304.39,500.55 L305.20,500.78 L306.00,501.01 L306.81,501.24 L307.61,501.48 L308.42,501.72 L309.22,501.96 L310.03,502.20 L310.83,502.45 L311.63,502.69 L312.44,502.94 L313.24,503.18 L314.05,503.43 L314.85,503.67 L315.66,503.92 L316.46,504.16 L317.27,504.40 L318.07,504.63 L318.87,504.87 L319.68,505.10 L320.48,505.33 L321.29,505.55 L322.09,505.78 L322.90,505.99 L323.70,506.21 L324.51,506.42 L325.31,506.62 L326.12,506.82 L326.92,507.02 L327.72,507.21 L328.53,507.40 L329.33,507.58 L330.14,507.76 L330.94,507.93 L331.75,508.09 L332.55,508.26 L333.36,508.41 L334.16,508.56 L334.96,508.71" stroke="#0c0cf0" stroke-width="1.4" fill="none"/>
<line x1="63.90" y1="511.60" x2="360.00" y2="511.60" stroke="#000" stroke-width="1.3" stroke-opacity="0.6"/>
<path d="M67.01,510.35 C68.38,510.18 72.13,509.58 75.20,509.37 C78.27,509.15 82.02,509.26 85.44,509.04 C88.85,508.82 92.91,508.42 95.67,508.06 C98.43,507.70 98.74,507.15 102.02,506.88 C105.29,506.61 112.59,506.84 115.32,506.42 C118.05,506.01 116.52,505.58 118.39,504.39 C120.27,503.21 124.53,500.69 126.58,499.29 C128.63,497.90 128.63,497.56 130.67,496.02 C132.72,494.49 136.81,491.66 138.86,490.07 C140.91,488.48 141.08,488.09 142.96,486.48 C144.83,484.86 148.35,482.08 150.12,480.39 C151.89,478.70 152.27,478.43 153.60,476.34 C154.93,474.25 156.91,470.12 158.10,467.84 C159.30,465.55 159.81,465.17 160.76,462.60 C161.72,460.04 162.64,457.26 163.84,452.47 C165.03,447.67 166.74,439.66 167.93,433.83 C169.12,428.00 169.91,423.47 171.00,417.48 C172.09,411.48 173.32,404.62 174.48,397.86 C175.64,391.10 176.63,383.36 177.96,376.93 C179.29,370.50 180.89,364.72 182.46,359.27 C184.03,353.82 185.50,348.05 187.38,344.23 C189.25,340.42 191.78,338.23 193.72,336.38 C195.67,334.53 197.06,334.09 199.04,333.11 C201.02,332.13 203.72,330.06 205.59,330.50 C207.47,330.93 208.83,333.44 210.30,335.73 C211.77,338.02 212.89,339.87 214.40,344.23 C215.90,348.59 217.13,352.95 219.31,361.89 C221.49,370.83 224.36,383.78 227.50,397.86 C230.64,411.94 235.28,435.62 238.14,446.38 C241.01,457.15 242.54,457.66 244.69,462.47 C246.84,467.29 248.38,471.27 251.04,475.29 C253.70,479.31 257.18,483.65 260.66,486.61 C264.14,489.56 268.71,491.62 271.92,493.01 C275.12,494.41 277.20,494.85 279.90,494.98 C282.60,495.11 284.88,494.13 288.09,493.80 C291.29,493.47 296.48,492.61 299.14,493.01 C301.80,493.42 301.63,494.22 304.05,496.22 C306.48,498.21 310.20,503.12 313.68,504.98 C317.16,506.85 321.18,506.74 324.93,507.40 C328.69,508.07 332.99,508.43 336.19,508.97 C339.40,509.52 341.62,510.25 344.18,510.67 C346.73,511.10 348.95,511.38 351.54,511.52 C354.14,511.66 358.37,511.52 359.73,511.52" fill="none" stroke="#111" stroke-width="1.6" stroke-dasharray="5.5 3.2"/>
<text x="208.60" y="549.60" font-size="12.5" text-anchor="middle" fill="#1a1a1a">Minimum expression level (Log<tspan font-size="8" dy="3">2</tspan><tspan dy="-3"> Intensity)</tspan></text>
<path d="M420.60,331.60 L638.90,331.60 L638.90,505.40" stroke="#383838" stroke-width="1.2" fill="none"/>
<line x1="420.60" y1="331.00" x2="420.60" y2="506.00" stroke="#1a1a1a" stroke-width="1.3"/>
<line x1="420.00" y1="505.40" x2="639.50" y2="505.40" stroke="#1a1a1a" stroke-width="1.3"/>
<line x1="416.50" y1="505.40" x2="420.60" y2="505.40" stroke="#1a1a1a" stroke-width="1.1"/>
<text x="410.60" y="510.10" font-size="12" text-anchor="end" fill="#1a1a1a">0</text>
<line x1="416.50" y1="421.10" x2="420.60" y2="421.10" stroke="#1a1a1a" stroke-width="1.1"/>
<text x="410.60" y="424.00" font-size="12" text-anchor="end" fill="#1a1a1a">100</text>
<line x1="416.50" y1="333.20" x2="420.60" y2="333.20" stroke="#1a1a1a" stroke-width="1.1"/>
<text x="410.60" y="339.70" font-size="12" text-anchor="end" fill="#1a1a1a">200</text>
<line x1="638.90" y1="498.00" x2="642.80" y2="498.00" stroke="#5a4a4a" stroke-width="1.1"/>
<text x="649.90" y="502.50" font-size="12" text-anchor="start" fill="#1a1a1a">2.0</text>
<line x1="638.90" y1="440.20" x2="642.80" y2="440.20" stroke="#5a4a4a" stroke-width="1.1"/>
<text x="649.90" y="444.80" font-size="12" text-anchor="start" fill="#1a1a1a">3.0</text>
<line x1="638.90" y1="381.20" x2="642.80" y2="381.20" stroke="#5a4a4a" stroke-width="1.1"/>
<text x="649.90" y="385.80" font-size="12" text-anchor="start" fill="#1a1a1a">4.0</text>
<line x1="428.50" y1="505.40" x2="428.50" y2="510.50" stroke="#1a1a1a" stroke-width="1.1"/>
<text x="424.50" y="525.90" font-size="12" text-anchor="middle" fill="#1a1a1a">13</text>
<line x1="457.37" y1="505.40" x2="457.37" y2="510.50" stroke="#1a1a1a" stroke-width="1.1"/>
<text x="454.43" y="525.90" font-size="12" text-anchor="middle" fill="#1a1a1a">14</text>
<line x1="486.24" y1="505.40" x2="486.24" y2="510.50" stroke="#1a1a1a" stroke-width="1.1"/>
<text x="484.36" y="525.90" font-size="12" text-anchor="middle" fill="#1a1a1a">15</text>
<line x1="515.11" y1="505.40" x2="515.11" y2="510.50" stroke="#1a1a1a" stroke-width="1.1"/>
<text x="514.29" y="525.90" font-size="12" text-anchor="middle" fill="#1a1a1a">16</text>
<line x1="543.98" y1="505.40" x2="543.98" y2="510.50" stroke="#1a1a1a" stroke-width="1.1"/>
<text x="544.22" y="525.90" font-size="12" text-anchor="middle" fill="#1a1a1a">17</text>
<line x1="572.85" y1="505.40" x2="572.85" y2="510.50" stroke="#1a1a1a" stroke-width="1.1"/>
<text x="574.15" y="525.90" font-size="12" text-anchor="middle" fill="#1a1a1a">18</text>
<line x1="601.72" y1="505.40" x2="601.72" y2="510.50" stroke="#1a1a1a" stroke-width="1.1"/>
<text x="604.08" y="525.90" font-size="12" text-anchor="middle" fill="#1a1a1a">19</text>
<line x1="630.59" y1="505.40" x2="630.59" y2="510.50" stroke="#1a1a1a" stroke-width="1.1"/>
<text x="634.01" y="525.90" font-size="12" text-anchor="middle" fill="#1a1a1a">20</text>
<text x="381.10" y="429.30" font-size="12.4" text-anchor="middle" fill="#1a1a1a" transform="rotate(-90 381.1 429.3)">Number of genotypes</text>
<text x="683.20" y="440.30" font-size="12.2" text-anchor="middle" fill="#1a1a1a" transform="rotate(-90 683.2 440.3)">Cscore</text>
<text x="531.90" y="549.60" font-size="12.5" text-anchor="middle" fill="#1a1a1a">Minimum expression level (Log<tspan font-size="8" dy="3">2</tspan><tspan dy="-3"> Intensity)</tspan></text>
<path d="M428.50,488.90 L457.37,456.70 L486.24,407.80 L515.11,388.00 L543.98,382.60 L572.85,380.90 L601.72,379.10 L630.59,375.70" stroke="#111" stroke-width="1.2" fill="none"/>
<line x1="431.77" y1="372.89" x2="454.10" y2="394.01" stroke="#111" stroke-width="1.15" stroke-dasharray="4.2 3"/>
<line x1="461.63" y1="398.56" x2="481.98" y2="405.54" stroke="#111" stroke-width="1.15" stroke-dasharray="4.2 3"/>
<line x1="488.82" y1="410.69" x2="512.53" y2="444.51" stroke="#111" stroke-width="1.15" stroke-dasharray="4.2 3"/>
<line x1="519.32" y1="449.78" x2="539.77" y2="457.42" stroke="#111" stroke-width="1.15" stroke-dasharray="4.2 3"/>
<line x1="548.39" y1="459.89" x2="568.44" y2="463.91" stroke="#111" stroke-width="1.15" stroke-dasharray="4.2 3"/>
<line x1="577.12" y1="466.21" x2="597.45" y2="472.89" stroke="#111" stroke-width="1.15" stroke-dasharray="4.2 3"/>
<line x1="606.21" y1="473.99" x2="626.10" y2="472.61" stroke="#111" stroke-width="1.15" stroke-dasharray="4.2 3"/>
<circle cx="428.50" cy="488.90" r="1.9" fill="#111"/>
<circle cx="457.37" cy="456.70" r="1.9" fill="#111"/>
<circle cx="486.24" cy="407.80" r="1.9" fill="#111"/>
<circle cx="515.11" cy="388.00" r="1.9" fill="#111"/>
<circle cx="543.98" cy="382.60" r="1.9" fill="#111"/>
<circle cx="572.85" cy="380.90" r="1.9" fill="#111"/>
<circle cx="601.72" cy="379.10" r="1.9" fill="#111"/>
<circle cx="630.59" cy="375.70" r="1.9" fill="#111"/>
<path d="M428.50,367.02 L430.80,371.82 L426.20,371.82 Z" fill="#111"/>
<path d="M457.37,394.32 L459.67,399.12 L455.07,399.12 Z" fill="#111"/>
<path d="M486.24,404.22 L488.54,409.02 L483.94,409.02 Z" fill="#111"/>
<path d="M515.11,445.42 L517.41,450.22 L512.81,450.22 Z" fill="#111"/>
<path d="M543.98,456.22 L546.28,461.02 L541.68,461.02 Z" fill="#111"/>
<path d="M572.85,462.02 L575.15,466.82 L570.55,466.82 Z" fill="#111"/>
<path d="M601.72,471.52 L604.02,476.32 L599.42,476.32 Z" fill="#111"/>
<path d="M630.59,469.52 L632.89,474.32 L628.29,474.32 Z" fill="#111"/>
<text x="579.50" y="396.80" font-size="10" text-anchor="middle" fill="#1a1a1a">Number of genotypes</text>
<text x="606.50" y="464.30" font-size="10" text-anchor="middle" fill="#1a1a1a">Cscore</text>
<line x1="67.70" y1="633.90" x2="286.00" y2="633.90" stroke="#3a3a3a" stroke-width="1.3"/>
<line x1="286.00" y1="633.30" x2="286.00" y2="823.40" stroke="#6a6a6a" stroke-width="1.3"/>
<line x1="67.70" y1="633.30" x2="67.70" y2="823.40" stroke="#1a1a1a" stroke-width="1.3"/>
<line x1="67.10" y1="822.80" x2="286.60" y2="822.80" stroke="#1a1a1a" stroke-width="1.3"/>
<line x1="63.30" y1="803.20" x2="67.70" y2="803.20" stroke="#1a1a1a" stroke-width="1.1"/>
<text x="58.40" y="810.60" font-size="12" text-anchor="end" fill="#1a1a1a">100</text>
<line x1="63.30" y1="753.60" x2="67.70" y2="753.60" stroke="#1a1a1a" stroke-width="1.1"/>
<text x="58.40" y="759.30" font-size="12" text-anchor="end" fill="#1a1a1a">140</text>
<line x1="63.30" y1="703.60" x2="67.70" y2="703.60" stroke="#1a1a1a" stroke-width="1.1"/>
<text x="58.40" y="708.70" font-size="12" text-anchor="end" fill="#1a1a1a">180</text>
<line x1="63.30" y1="653.50" x2="67.70" y2="653.50" stroke="#1a1a1a" stroke-width="1.1"/>
<text x="58.40" y="657.60" font-size="12" text-anchor="end" fill="#1a1a1a">220</text>
<line x1="286.00" y1="816.00" x2="290.60" y2="816.00" stroke="#4a3a3a" stroke-width="1.1"/>
<text x="294.00" y="817.40" font-size="12" text-anchor="start" fill="#1a1a1a">1.5</text>
<line x1="286.00" y1="757.10" x2="290.60" y2="757.10" stroke="#4a3a3a" stroke-width="1.1"/>
<text x="294.00" y="758.90" font-size="12" text-anchor="start" fill="#1a1a1a">2.5</text>
<line x1="286.00" y1="699.10" x2="290.60" y2="699.10" stroke="#4a3a3a" stroke-width="1.1"/>
<text x="294.00" y="701.90" font-size="12" text-anchor="start" fill="#1a1a1a">3.5</text>
<line x1="286.00" y1="641.00" x2="290.60" y2="641.00" stroke="#4a3a3a" stroke-width="1.1"/>
<text x="294.00" y="643.00" font-size="12" text-anchor="start" fill="#1a1a1a">4.5</text>
<line x1="75.50" y1="822.80" x2="75.50" y2="826.40" stroke="#1a1a1a" stroke-width="1.1"/>
<text x="75.50" y="838.80" font-size="12" text-anchor="middle" fill="#1a1a1a">1</text>
<line x1="98.00" y1="822.80" x2="98.00" y2="826.40" stroke="#1a1a1a" stroke-width="1.1"/>
<text x="98.00" y="838.80" font-size="12" text-anchor="middle" fill="#1a1a1a">2</text>
<line x1="120.50" y1="822.80" x2="120.50" y2="826.40" stroke="#1a1a1a" stroke-width="1.1"/>
<text x="120.50" y="838.80" font-size="12" text-anchor="middle" fill="#1a1a1a">3</text>
<line x1="143.00" y1="822.80" x2="143.00" y2="826.40" stroke="#1a1a1a" stroke-width="1.1"/>
<text x="143.00" y="838.80" font-size="12" text-anchor="middle" fill="#1a1a1a">4</text>
<line x1="165.50" y1="822.80" x2="165.50" y2="826.40" stroke="#1a1a1a" stroke-width="1.1"/>
<text x="165.50" y="838.80" font-size="12" text-anchor="middle" fill="#1a1a1a">5</text>
<line x1="188.00" y1="822.80" x2="188.00" y2="826.40" stroke="#1a1a1a" stroke-width="1.1"/>
<text x="188.00" y="838.80" font-size="12" text-anchor="middle" fill="#1a1a1a">6</text>
<line x1="210.50" y1="822.80" x2="210.50" y2="826.40" stroke="#1a1a1a" stroke-width="1.1"/>
<text x="210.50" y="838.80" font-size="12" text-anchor="middle" fill="#1a1a1a">7</text>
<line x1="233.00" y1="822.80" x2="233.00" y2="826.40" stroke="#1a1a1a" stroke-width="1.1"/>
<text x="233.00" y="838.80" font-size="12" text-anchor="middle" fill="#1a1a1a">8</text>
<line x1="255.50" y1="822.80" x2="255.50" y2="826.40" stroke="#1a1a1a" stroke-width="1.1"/>
<text x="255.50" y="838.80" font-size="12" text-anchor="middle" fill="#1a1a1a">9</text>
<line x1="278.00" y1="822.80" x2="278.00" y2="826.40" stroke="#1a1a1a" stroke-width="1.1"/>
<text x="278.00" y="838.80" font-size="12" text-anchor="middle" fill="#1a1a1a">10</text>
<text x="23.80" y="733.30" font-size="12.4" text-anchor="middle" fill="#1a1a1a" transform="rotate(-90 23.8 733.3)">Number of genotypes</text>
<text x="332.30" y="732.90" font-size="12.2" text-anchor="middle" fill="#1a1a1a" transform="rotate(-90 332.3 732.9)">Cscore</text>
<text x="180.80" y="858.60" font-size="12.4" text-anchor="middle" fill="#1a1a1a">Signal to noise ratio</text>
<path d="M75.50,645.80 L98.00,707.20 L120.50,724.90 L143.00,752.30 L165.50,768.50 L188.00,782.40 L210.50,789.70 L233.00,799.60 L255.50,803.50 L278.00,813.60" stroke="#111" stroke-width="1.2" fill="none"/>
<line x1="77.83" y1="806.90" x2="95.67" y2="780.10" stroke="#111" stroke-width="1.15" stroke-dasharray="4 3"/>
<line x1="101.21" y1="773.89" x2="117.29" y2="760.31" stroke="#111" stroke-width="1.15" stroke-dasharray="4 3"/>
<line x1="124.06" y1="755.37" x2="139.44" y2="745.73" stroke="#111" stroke-width="1.15" stroke-dasharray="4 3"/>
<line x1="145.84" y1="740.41" x2="162.66" y2="722.09" stroke="#111" stroke-width="1.15" stroke-dasharray="4 3"/>
<line x1="168.03" y1="715.64" x2="185.47" y2="692.46" stroke="#111" stroke-width="1.15" stroke-dasharray="4 3"/>
<line x1="190.68" y1="685.86" x2="207.82" y2="665.14" stroke="#111" stroke-width="1.15" stroke-dasharray="4 3"/>
<line x1="214.55" y1="663.00" x2="228.95" y2="666.90" stroke="#111" stroke-width="1.15" stroke-dasharray="4 3"/>
<line x1="237.10" y1="667.07" x2="251.40" y2="663.83" stroke="#111" stroke-width="1.15" stroke-dasharray="4 3"/>
<line x1="259.21" y1="664.86" x2="274.29" y2="672.84" stroke="#111" stroke-width="1.15" stroke-dasharray="4 3"/>
<circle cx="75.50" cy="645.80" r="1.7" fill="#111"/>
<circle cx="98.00" cy="707.20" r="1.7" fill="#111"/>
<circle cx="120.50" cy="724.90" r="1.7" fill="#111"/>
<circle cx="143.00" cy="752.30" r="1.7" fill="#111"/>
<circle cx="165.50" cy="768.50" r="1.7" fill="#111"/>
<circle cx="188.00" cy="782.40" r="1.7" fill="#111"/>
<circle cx="210.50" cy="789.70" r="1.7" fill="#111"/>
<circle cx="233.00" cy="799.60" r="1.7" fill="#111"/>
<circle cx="255.50" cy="803.50" r="1.7" fill="#111"/>
<circle cx="278.00" cy="813.60" r="1.7" fill="#111"/>
<path d="M75.50,807.62 L77.80,812.42 L73.20,812.42 Z" fill="#111"/>
<path d="M98.00,773.82 L100.30,778.62 L95.70,778.62 Z" fill="#111"/>
<path d="M120.50,754.82 L122.80,759.62 L118.20,759.62 Z" fill="#111"/>
<path d="M143.00,740.72 L145.30,745.52 L140.70,745.52 Z" fill="#111"/>
<path d="M165.50,716.22 L167.80,721.02 L163.20,721.02 Z" fill="#111"/>
<path d="M188.00,686.32 L190.30,691.12 L185.70,691.12 Z" fill="#111"/>
<path d="M210.50,659.12 L212.80,663.92 L208.20,663.92 Z" fill="#111"/>
<path d="M233.00,665.22 L235.30,670.02 L230.70,670.02 Z" fill="#111"/>
<path d="M255.50,660.12 L257.80,664.92 L253.20,664.92 Z" fill="#111"/>
<path d="M278.00,672.02 L280.30,676.82 L275.70,676.82 Z" fill="#111"/>
<text x="248.30" y="679.60" font-size="10" text-anchor="middle" fill="#1a1a1a">Cscore</text>
<text x="246.50" y="788.60" font-size="10" text-anchor="middle" fill="#1a1a1a">SNP number</text>
<line x1="420.60" y1="607.00" x2="420.60" y2="821.20" stroke="#1a1a1a" stroke-width="1.3"/>
<line x1="420.00" y1="820.60" x2="682.00" y2="820.60" stroke="#1a1a1a" stroke-width="1.3"/>
<line x1="417.10" y1="815.20" x2="420.60" y2="815.20" stroke="#1a1a1a" stroke-width="1.1"/>
<text x="411.30" y="818.70" font-size="12" text-anchor="end" fill="#1a1a1a">0</text>
<line x1="417.10" y1="764.50" x2="420.60" y2="764.50" stroke="#1a1a1a" stroke-width="1.1"/>
<text x="412.00" y="768.50" font-size="12" text-anchor="end" fill="#1a1a1a">0.2</text>
<line x1="417.10" y1="713.80" x2="420.60" y2="713.80" stroke="#1a1a1a" stroke-width="1.1"/>
<text x="412.00" y="717.60" font-size="12" text-anchor="end" fill="#1a1a1a">0.4</text>
<line x1="417.10" y1="663.10" x2="420.60" y2="663.10" stroke="#1a1a1a" stroke-width="1.1"/>
<text x="412.00" y="666.90" font-size="12" text-anchor="end" fill="#1a1a1a">0.6</text>
<line x1="417.10" y1="612.40" x2="420.60" y2="612.40" stroke="#1a1a1a" stroke-width="1.1"/>
<text x="412.00" y="616.20" font-size="12" text-anchor="end" fill="#1a1a1a">0.8</text>
<line x1="423.40" y1="820.60" x2="423.40" y2="824.00" stroke="#1a1a1a" stroke-width="1.1"/>
<text x="423.40" y="840.60" font-size="12" text-anchor="middle" fill="#1a1a1a">1</text>
<line x1="486.75" y1="820.60" x2="486.75" y2="824.00" stroke="#1a1a1a" stroke-width="1.1"/>
<text x="486.75" y="840.60" font-size="12" text-anchor="middle" fill="#1a1a1a">2</text>
<line x1="550.10" y1="820.60" x2="550.10" y2="824.00" stroke="#1a1a1a" stroke-width="1.1"/>
<text x="550.10" y="840.60" font-size="12" text-anchor="middle" fill="#1a1a1a">3</text>
<line x1="613.45" y1="820.60" x2="613.45" y2="824.00" stroke="#1a1a1a" stroke-width="1.1"/>
<text x="613.45" y="840.60" font-size="12" text-anchor="middle" fill="#1a1a1a">4</text>
<line x1="676.80" y1="820.60" x2="676.80" y2="824.00" stroke="#1a1a1a" stroke-width="1.1"/>
<text x="676.80" y="840.60" font-size="12" text-anchor="middle" fill="#1a1a1a">5</text>
<text x="555.30" y="858.50" font-size="12.2" text-anchor="middle" fill="#1a1a1a">Cscore</text>
<text x="380.90" y="710.60" font-size="12.2" text-anchor="middle" fill="#1a1a1a" transform="rotate(-90 380.9 710.6)">Cscore</text>
<path d="M379.9,733.0 L379.9,740.8 L372.8,736.9 Z" fill="none" stroke="#1a1a1a" stroke-width="0.9"/>
<circle cx="523.50" cy="666.00" r="1.9" fill="#e8685f"/>
<circle cx="538.40" cy="655.00" r="1.9" fill="#e8685f"/>
<circle cx="530.10" cy="673.40" r="1.9" fill="#e8685f"/>
<circle cx="533.60" cy="669.40" r="1.9" fill="#e8685f"/>
<circle cx="504.30" cy="673.80" r="1.9" fill="#e8685f"/>
<circle cx="510.40" cy="678.60" r="1.9" fill="#e8685f"/>
<circle cx="541.00" cy="675.60" r="1.9" fill="#e8685f"/>
<circle cx="542.40" cy="666.80" r="1.9" fill="#e8685f"/>
<circle cx="501.60" cy="683.90" r="1.9" fill="#e8685f"/>
<circle cx="510.00" cy="687.00" r="1.9" fill="#e8685f"/>
<circle cx="519.20" cy="684.80" r="1.9" fill="#e8685f"/>
<circle cx="520.50" cy="688.30" r="1.9" fill="#e8685f"/>
<circle cx="513.00" cy="691.80" r="1.9" fill="#e8685f"/>
<circle cx="508.60" cy="693.50" r="1.9" fill="#e8685f"/>
<circle cx="519.20" cy="693.10" r="1.9" fill="#e8685f"/>
<circle cx="528.30" cy="690.50" r="1.9" fill="#e8685f"/>
<circle cx="525.70" cy="693.50" r="1.9" fill="#e8685f"/>
<circle cx="535.80" cy="687.80" r="1.9" fill="#e8685f"/>
<circle cx="491.60" cy="689.20" r="1.9" fill="#e8685f"/>
<circle cx="493.30" cy="695.30" r="1.9" fill="#e8685f"/>
<circle cx="499.00" cy="700.50" r="1.9" fill="#e8685f"/>
<circle cx="527.50" cy="700.50" r="1.9" fill="#e8685f"/>
<circle cx="504.30" cy="703.60" r="1.9" fill="#e8685f"/>
<circle cx="555.80" cy="651.00" r="1.9" fill="#e8685f"/>
<circle cx="567.10" cy="648.40" r="1.9" fill="#e8685f"/>
<circle cx="565.40" cy="650.10" r="1.9" fill="#e8685f"/>
<circle cx="579.80" cy="648.40" r="1.9" fill="#e8685f"/>
<circle cx="580.30" cy="654.50" r="1.9" fill="#e8685f"/>
<circle cx="590.80" cy="654.50" r="1.9" fill="#e8685f"/>
<circle cx="549.60" cy="657.10" r="1.9" fill="#e8685f"/>
<circle cx="573.30" cy="667.70" r="1.9" fill="#e8685f"/>
<circle cx="565.00" cy="662.40" r="1.9" fill="#e8685f"/>
<circle cx="543.50" cy="662.40" r="1.9" fill="#e8685f"/>
<circle cx="546.60" cy="663.30" r="1.9" fill="#e8685f"/>
<circle cx="541.80" cy="666.80" r="1.9" fill="#e8685f"/>
<circle cx="553.10" cy="667.70" r="1.9" fill="#e8685f"/>
<circle cx="554.40" cy="670.30" r="1.9" fill="#e8685f"/>
<circle cx="541.80" cy="676.00" r="1.9" fill="#e8685f"/>
<circle cx="540.40" cy="654.10" r="1.9" fill="#e8685f"/>
<circle cx="621.00" cy="643.60" r="1.9" fill="#e8685f"/>
<circle cx="605.80" cy="649.30" r="1.9" fill="#e8685f"/>
<circle cx="590.70" cy="654.60" r="1.9" fill="#e8685f"/>
<circle cx="493.00" cy="695.20" r="1.9" fill="#e8685f"/>
<circle cx="499.10" cy="700.70" r="1.9" fill="#e8685f"/>
<circle cx="504.30" cy="704.20" r="1.9" fill="#e8685f"/>
<circle cx="479.50" cy="714.50" r="1.9" fill="#e8685f"/>
<circle cx="505.10" cy="714.50" r="1.9" fill="#e8685f"/>
<circle cx="504.30" cy="724.80" r="1.9" fill="#e8685f"/>
<circle cx="508.60" cy="693.80" r="1.9" fill="#e8685f"/>
<circle cx="513.00" cy="669.00" r="1.9" fill="#6d6d6d"/>
<circle cx="502.50" cy="671.60" r="1.9" fill="#6d6d6d"/>
<circle cx="501.20" cy="675.60" r="1.9" fill="#6d6d6d"/>
<circle cx="506.00" cy="676.00" r="1.9" fill="#6d6d6d"/>
<circle cx="503.80" cy="679.10" r="1.9" fill="#6d6d6d"/>
<circle cx="510.40" cy="676.50" r="1.9" fill="#6d6d6d"/>
<circle cx="515.60" cy="673.80" r="1.9" fill="#6d6d6d"/>
<circle cx="511.30" cy="680.40" r="1.9" fill="#6d6d6d"/>
<circle cx="513.90" cy="678.60" r="1.9" fill="#6d6d6d"/>
<circle cx="517.40" cy="678.20" r="1.9" fill="#6d6d6d"/>
<circle cx="519.20" cy="680.40" r="1.9" fill="#6d6d6d"/>
<circle cx="522.70" cy="674.30" r="1.9" fill="#6d6d6d"/>
<circle cx="525.30" cy="671.20" r="1.9" fill="#6d6d6d"/>
<circle cx="525.70" cy="666.80" r="1.9" fill="#6d6d6d"/>
<circle cx="531.00" cy="667.30" r="1.9" fill="#6d6d6d"/>
<circle cx="532.30" cy="663.80" r="1.9" fill="#6d6d6d"/>
<circle cx="539.30" cy="658.50" r="1.9" fill="#6d6d6d"/>
<circle cx="541.50" cy="658.50" r="1.9" fill="#6d6d6d"/>
<circle cx="537.50" cy="662.00" r="1.9" fill="#6d6d6d"/>
<circle cx="534.90" cy="665.50" r="1.9" fill="#6d6d6d"/>
<circle cx="537.50" cy="669.00" r="1.9" fill="#6d6d6d"/>
<circle cx="540.20" cy="666.40" r="1.9" fill="#6d6d6d"/>
<circle cx="542.80" cy="669.00" r="1.9" fill="#6d6d6d"/>
<circle cx="534.00" cy="672.50" r="1.9" fill="#6d6d6d"/>
<circle cx="537.50" cy="674.30" r="1.9" fill="#6d6d6d"/>
<circle cx="541.00" cy="672.50" r="1.9" fill="#6d6d6d"/>
<circle cx="539.30" cy="677.80" r="1.9" fill="#6d6d6d"/>
<circle cx="535.80" cy="678.60" r="1.9" fill="#6d6d6d"/>
<circle cx="532.30" cy="676.90" r="1.9" fill="#6d6d6d"/>
<circle cx="527.90" cy="676.00" r="1.9" fill="#6d6d6d"/>
<circle cx="526.20" cy="680.40" r="1.9" fill="#6d6d6d"/>
<circle cx="530.50" cy="681.30" r="1.9" fill="#6d6d6d"/>
<circle cx="523.50" cy="683.00" r="1.9" fill="#6d6d6d"/>
<circle cx="522.70" cy="685.20" r="1.9" fill="#6d6d6d"/>
<circle cx="527.00" cy="678.60" r="1.9" fill="#6d6d6d"/>
<circle cx="538.40" cy="683.00" r="1.9" fill="#6d6d6d"/>
<circle cx="543.20" cy="683.50" r="1.9" fill="#6d6d6d"/>
<circle cx="503.40" cy="683.90" r="1.9" fill="#6d6d6d"/>
<circle cx="506.00" cy="684.80" r="1.9" fill="#6d6d6d"/>
<circle cx="498.10" cy="685.60" r="1.9" fill="#6d6d6d"/>
<circle cx="516.10" cy="684.80" r="1.9" fill="#6d6d6d"/>
<circle cx="511.30" cy="689.60" r="1.9" fill="#6d6d6d"/>
<circle cx="517.40" cy="688.70" r="1.9" fill="#6d6d6d"/>
<circle cx="495.50" cy="690.00" r="1.9" fill="#6d6d6d"/>
<circle cx="497.30" cy="692.20" r="1.9" fill="#6d6d6d"/>
<circle cx="500.80" cy="690.50" r="1.9" fill="#6d6d6d"/>
<circle cx="503.80" cy="691.30" r="1.9" fill="#6d6d6d"/>
<circle cx="503.40" cy="694.40" r="1.9" fill="#6d6d6d"/>
<circle cx="506.00" cy="694.00" r="1.9" fill="#6d6d6d"/>
<circle cx="512.10" cy="693.50" r="1.9" fill="#6d6d6d"/>
<circle cx="517.40" cy="693.10" r="1.9" fill="#6d6d6d"/>
<circle cx="517.40" cy="697.50" r="1.9" fill="#6d6d6d"/>
<circle cx="520.00" cy="697.00" r="1.9" fill="#6d6d6d"/>
<circle cx="513.00" cy="701.00" r="1.9" fill="#6d6d6d"/>
<circle cx="492.40" cy="700.10" r="1.9" fill="#6d6d6d"/>
<circle cx="532.30" cy="702.30" r="1.9" fill="#6d6d6d"/>
<circle cx="506.90" cy="702.30" r="1.9" fill="#6d6d6d"/>
<circle cx="499.00" cy="704.00" r="1.9" fill="#6d6d6d"/>
<circle cx="557.10" cy="646.20" r="1.9" fill="#6d6d6d"/>
<circle cx="560.60" cy="650.60" r="1.9" fill="#6d6d6d"/>
<circle cx="562.30" cy="653.60" r="1.9" fill="#6d6d6d"/>
<circle cx="550.50" cy="654.10" r="1.9" fill="#6d6d6d"/>
<circle cx="553.10" cy="656.30" r="1.9" fill="#6d6d6d"/>
<circle cx="558.80" cy="657.60" r="1.9" fill="#6d6d6d"/>
<circle cx="565.40" cy="656.30" r="1.9" fill="#6d6d6d"/>
<circle cx="567.60" cy="650.60" r="1.9" fill="#6d6d6d"/>
<circle cx="569.80" cy="652.80" r="1.9" fill="#6d6d6d"/>
<circle cx="572.40" cy="649.70" r="1.9" fill="#6d6d6d"/>
<circle cx="572.00" cy="654.50" r="1.9" fill="#6d6d6d"/>
<circle cx="573.30" cy="658.00" r="1.9" fill="#6d6d6d"/>
<circle cx="568.00" cy="659.80" r="1.9" fill="#6d6d6d"/>
<circle cx="569.80" cy="658.90" r="1.9" fill="#6d6d6d"/>
<circle cx="577.70" cy="649.70" r="1.9" fill="#6d6d6d"/>
<circle cx="581.20" cy="646.20" r="1.9" fill="#6d6d6d"/>
<circle cx="583.80" cy="648.80" r="1.9" fill="#6d6d6d"/>
<circle cx="582.90" cy="652.30" r="1.9" fill="#6d6d6d"/>
<circle cx="587.70" cy="649.30" r="1.9" fill="#6d6d6d"/>
<circle cx="590.30" cy="651.00" r="1.9" fill="#6d6d6d"/>
<circle cx="587.70" cy="654.10" r="1.9" fill="#6d6d6d"/>
<circle cx="590.30" cy="644.40" r="1.9" fill="#6d6d6d"/>
<circle cx="577.70" cy="655.40" r="1.9" fill="#6d6d6d"/>
<circle cx="583.80" cy="658.90" r="1.9" fill="#6d6d6d"/>
<circle cx="588.00" cy="661.10" r="1.9" fill="#6d6d6d"/>
<circle cx="577.20" cy="662.40" r="1.9" fill="#6d6d6d"/>
<circle cx="567.10" cy="665.00" r="1.9" fill="#6d6d6d"/>
<circle cx="576.30" cy="669.80" r="1.9" fill="#6d6d6d"/>
<circle cx="582.50" cy="668.10" r="1.9" fill="#6d6d6d"/>
<circle cx="587.70" cy="669.40" r="1.9" fill="#6d6d6d"/>
<circle cx="575.50" cy="675.10" r="1.9" fill="#6d6d6d"/>
<circle cx="582.00" cy="676.80" r="1.9" fill="#6d6d6d"/>
<circle cx="541.30" cy="658.00" r="1.9" fill="#6d6d6d"/>
<circle cx="547.00" cy="659.80" r="1.9" fill="#6d6d6d"/>
<circle cx="549.60" cy="662.40" r="1.9" fill="#6d6d6d"/>
<circle cx="555.80" cy="662.40" r="1.9" fill="#6d6d6d"/>
<circle cx="560.10" cy="662.40" r="1.9" fill="#6d6d6d"/>
<circle cx="562.80" cy="662.40" r="1.9" fill="#6d6d6d"/>
<circle cx="545.30" cy="665.00" r="1.9" fill="#6d6d6d"/>
<circle cx="550.50" cy="665.00" r="1.9" fill="#6d6d6d"/>
<circle cx="554.40" cy="666.80" r="1.9" fill="#6d6d6d"/>
<circle cx="542.60" cy="668.50" r="1.9" fill="#6d6d6d"/>
<circle cx="548.80" cy="668.50" r="1.9" fill="#6d6d6d"/>
<circle cx="555.80" cy="670.30" r="1.9" fill="#6d6d6d"/>
<circle cx="552.30" cy="672.90" r="1.9" fill="#6d6d6d"/>
<circle cx="558.80" cy="672.50" r="1.9" fill="#6d6d6d"/>
<circle cx="561.00" cy="673.80" r="1.9" fill="#6d6d6d"/>
<circle cx="541.80" cy="672.90" r="1.9" fill="#6d6d6d"/>
<circle cx="545.30" cy="672.00" r="1.9" fill="#6d6d6d"/>
<circle cx="547.90" cy="675.50" r="1.9" fill="#6d6d6d"/>
<circle cx="548.80" cy="678.60" r="1.9" fill="#6d6d6d"/>
<circle cx="541.80" cy="676.40" r="1.9" fill="#6d6d6d"/>
<circle cx="600.10" cy="640.20" r="1.9" fill="#6d6d6d"/>
<circle cx="599.20" cy="644.30" r="1.9" fill="#6d6d6d"/>
<circle cx="602.50" cy="645.80" r="1.9" fill="#6d6d6d"/>
<circle cx="599.60" cy="646.90" r="1.9" fill="#6d6d6d"/>
<circle cx="600.70" cy="649.10" r="1.9" fill="#6d6d6d"/>
<circle cx="597.80" cy="651.30" r="1.9" fill="#6d6d6d"/>
<circle cx="590.50" cy="644.70" r="1.9" fill="#6d6d6d"/>
<circle cx="588.30" cy="649.50" r="1.9" fill="#6d6d6d"/>
<circle cx="590.50" cy="651.30" r="1.9" fill="#6d6d6d"/>
<circle cx="587.90" cy="654.20" r="1.9" fill="#6d6d6d"/>
<circle cx="585.00" cy="649.10" r="1.9" fill="#6d6d6d"/>
<circle cx="609.50" cy="645.10" r="1.9" fill="#6d6d6d"/>
<circle cx="612.00" cy="644.10" r="1.9" fill="#6d6d6d"/>
<circle cx="608.40" cy="649.50" r="1.9" fill="#6d6d6d"/>
<circle cx="609.50" cy="650.20" r="1.9" fill="#6d6d6d"/>
<circle cx="614.10" cy="651.10" r="1.9" fill="#6d6d6d"/>
<circle cx="606.50" cy="653.80" r="1.9" fill="#6d6d6d"/>
<circle cx="618.00" cy="640.20" r="1.9" fill="#6d6d6d"/>
<circle cx="631.70" cy="647.80" r="1.9" fill="#6d6d6d"/>
<circle cx="600.70" cy="658.70" r="1.9" fill="#6d6d6d"/>
<circle cx="588.30" cy="661.10" r="1.9" fill="#6d6d6d"/>
<circle cx="597.80" cy="664.60" r="1.9" fill="#6d6d6d"/>
<circle cx="587.90" cy="669.20" r="1.9" fill="#6d6d6d"/>
<circle cx="585.00" cy="659.00" r="1.9" fill="#6d6d6d"/>
<circle cx="664.20" cy="629.30" r="1.9" fill="#6d6d6d"/>
<circle cx="670.40" cy="634.10" r="1.9" fill="#6d6d6d"/>
<circle cx="477.80" cy="708.50" r="1.9" fill="#6d6d6d"/>
<circle cx="476.80" cy="717.70" r="1.9" fill="#6d6d6d"/>
<circle cx="474.90" cy="720.40" r="1.9" fill="#6d6d6d"/>
<circle cx="465.90" cy="721.80" r="1.9" fill="#6d6d6d"/>
<circle cx="481.10" cy="724.20" r="1.9" fill="#6d6d6d"/>
<circle cx="484.90" cy="724.90" r="1.9" fill="#6d6d6d"/>
<circle cx="474.00" cy="728.70" r="1.9" fill="#6d6d6d"/>
<circle cx="475.10" cy="732.90" r="1.9" fill="#6d6d6d"/>
<circle cx="499.10" cy="723.40" r="1.9" fill="#6d6d6d"/>
<circle cx="492.50" cy="699.70" r="1.9" fill="#6d6d6d"/>
<circle cx="492.50" cy="706.10" r="1.9" fill="#6d6d6d"/>
<circle cx="499.40" cy="704.40" r="1.9" fill="#6d6d6d"/>
<circle cx="503.40" cy="706.30" r="1.9" fill="#6d6d6d"/>
<circle cx="506.70" cy="702.30" r="1.9" fill="#6d6d6d"/>
<circle cx="509.10" cy="704.70" r="1.9" fill="#6d6d6d"/>
<circle cx="513.10" cy="700.90" r="1.9" fill="#6d6d6d"/>
<circle cx="516.70" cy="697.40" r="1.9" fill="#6d6d6d"/>
<circle cx="517.40" cy="716.80" r="1.9" fill="#6d6d6d"/>
<circle cx="495.80" cy="691.00" r="1.9" fill="#6d6d6d"/>
<circle cx="504.30" cy="693.80" r="1.9" fill="#6d6d6d"/>
<circle cx="511.90" cy="693.80" r="1.9" fill="#6d6d6d"/>
<circle cx="517.60" cy="692.80" r="1.9" fill="#6d6d6d"/>
<circle cx="563.80" cy="682.80" r="1.9" fill="#6d6d6d"/>
<circle cx="532.70" cy="702.00" r="1.9" fill="#6d6d6d"/>
<circle cx="533.40" cy="710.10" r="1.9" fill="#6d6d6d"/>
<circle cx="467.90" cy="752.70" r="1.9" fill="#6d6d6d"/>
<circle cx="463.40" cy="758.00" r="1.9" fill="#6d6d6d"/>
<circle cx="469.10" cy="762.90" r="1.9" fill="#6d6d6d"/>
<circle cx="463.40" cy="766.60" r="1.9" fill="#6d6d6d"/>
<circle cx="528.98" cy="669.27" r="1.9" fill="#6d6d6d"/>
<circle cx="548.95" cy="663.92" r="1.9" fill="#6d6d6d"/>
<circle cx="528.04" cy="666.61" r="1.9" fill="#6d6d6d"/>
<circle cx="544.30" cy="673.59" r="1.9" fill="#6d6d6d"/>
<circle cx="529.06" cy="659.24" r="1.9" fill="#6d6d6d"/>
<circle cx="546.35" cy="669.84" r="1.9" fill="#6d6d6d"/>
<circle cx="553.80" cy="672.89" r="1.9" fill="#6d6d6d"/>
<circle cx="539.08" cy="665.35" r="1.9" fill="#6d6d6d"/>
<circle cx="563.13" cy="665.27" r="1.9" fill="#6d6d6d"/>
<circle cx="532.94" cy="660.17" r="1.9" fill="#6d6d6d"/>
<circle cx="540.86" cy="667.87" r="1.9" fill="#6d6d6d"/>
<circle cx="536.90" cy="666.63" r="1.9" fill="#6d6d6d"/>
<circle cx="542.46" cy="671.15" r="1.9" fill="#6d6d6d"/>
<circle cx="549.87" cy="668.26" r="1.9" fill="#6d6d6d"/>
<circle cx="523.89" cy="671.21" r="1.9" fill="#6d6d6d"/>
<circle cx="527.22" cy="665.97" r="1.9" fill="#6d6d6d"/>
<circle cx="526.74" cy="667.01" r="1.9" fill="#6d6d6d"/>
<circle cx="532.99" cy="668.28" r="1.9" fill="#6d6d6d"/>
<circle cx="569.70" cy="666.71" r="1.9" fill="#6d6d6d"/>
<circle cx="547.58" cy="659.06" r="1.9" fill="#6d6d6d"/>
<circle cx="537.41" cy="670.97" r="1.9" fill="#6d6d6d"/>
<circle cx="539.17" cy="669.22" r="1.9" fill="#6d6d6d"/>
<circle cx="540.93" cy="660.96" r="1.9" fill="#6d6d6d"/>
<circle cx="545.07" cy="662.13" r="1.9" fill="#6d6d6d"/>
<circle cx="556.85" cy="663.97" r="1.9" fill="#6d6d6d"/>
<circle cx="546.17" cy="667.01" r="1.9" fill="#6d6d6d"/>
<circle cx="548.57" cy="663.39" r="1.9" fill="#6d6d6d"/>
<circle cx="548.99" cy="666.26" r="1.9" fill="#6d6d6d"/>
<circle cx="551.37" cy="670.75" r="1.9" fill="#6d6d6d"/>
<circle cx="541.27" cy="662.32" r="1.9" fill="#6d6d6d"/>
<circle cx="546.91" cy="669.81" r="1.9" fill="#6d6d6d"/>
<circle cx="554.78" cy="664.74" r="1.9" fill="#6d6d6d"/>
<circle cx="544.99" cy="670.05" r="1.9" fill="#6d6d6d"/>
<circle cx="542.55" cy="668.25" r="1.9" fill="#6d6d6d"/>
<circle cx="541.64" cy="663.41" r="1.9" fill="#6d6d6d"/>
<circle cx="530.87" cy="664.62" r="1.9" fill="#6d6d6d"/>
<circle cx="545.32" cy="676.07" r="1.9" fill="#6d6d6d"/>
<circle cx="548.79" cy="673.32" r="1.9" fill="#6d6d6d"/>
<circle cx="547.00" cy="671.19" r="1.9" fill="#6d6d6d"/>
<circle cx="541.65" cy="671.63" r="1.9" fill="#6d6d6d"/>
<circle cx="582.74" cy="655.36" r="1.9" fill="#6d6d6d"/>
<circle cx="558.06" cy="666.80" r="1.9" fill="#6d6d6d"/>
<circle cx="567.45" cy="661.85" r="1.9" fill="#6d6d6d"/>
<circle cx="573.74" cy="651.32" r="1.9" fill="#6d6d6d"/>
<circle cx="589.33" cy="665.88" r="1.9" fill="#6d6d6d"/>
<circle cx="566.77" cy="660.76" r="1.9" fill="#6d6d6d"/>
<circle cx="566.27" cy="652.58" r="1.9" fill="#6d6d6d"/>
<circle cx="563.88" cy="658.87" r="1.9" fill="#6d6d6d"/>
<circle cx="576.16" cy="660.55" r="1.9" fill="#6d6d6d"/>
<circle cx="565.60" cy="663.77" r="1.9" fill="#6d6d6d"/>
<circle cx="557.39" cy="660.96" r="1.9" fill="#6d6d6d"/>
<circle cx="576.12" cy="655.54" r="1.9" fill="#6d6d6d"/>
<circle cx="547.09" cy="652.47" r="1.9" fill="#6d6d6d"/>
<circle cx="567.37" cy="659.64" r="1.9" fill="#6d6d6d"/>
<circle cx="580.48" cy="651.98" r="1.9" fill="#6d6d6d"/>
<circle cx="466.60" cy="761.50" r="1.9" fill="#c39a4f"/>
<circle cx="468.50" cy="767.00" r="1.9" fill="#c39a4f"/>
<circle cx="474.80" cy="774.70" r="1.9" fill="#c39a4f"/>
<circle cx="459.50" cy="778.80" r="1.9" fill="#c39a4f"/>
<circle cx="466.00" cy="781.70" r="1.9" fill="#c39a4f"/>
<circle cx="460.50" cy="788.00" r="1.9" fill="#c39a4f"/>
<circle cx="455.80" cy="792.10" r="1.9" fill="#c39a4f"/>
<circle cx="463.40" cy="792.70" r="1.9" fill="#c39a4f"/>
<circle cx="447.00" cy="798.20" r="1.9" fill="#c39a4f"/>
<circle cx="442.90" cy="800.90" r="1.9" fill="#c39a4f"/>
<circle cx="446.40" cy="802.30" r="1.9" fill="#c39a4f"/>
<circle cx="449.00" cy="806.40" r="1.9" fill="#c39a4f"/>
<circle cx="452.70" cy="799.30" r="1.9" fill="#c39a4f"/>
<circle cx="454.80" cy="800.90" r="1.9" fill="#c39a4f"/>
<circle cx="461.70" cy="798.20" r="1.9" fill="#c39a4f"/>
<circle cx="459.30" cy="803.80" r="1.9" fill="#c39a4f"/>
<circle cx="464.40" cy="805.00" r="1.9" fill="#c39a4f"/>
<circle cx="469.50" cy="803.80" r="1.9" fill="#c39a4f"/>
<circle cx="468.50" cy="807.00" r="1.9" fill="#c39a4f"/>
<circle cx="455.60" cy="807.40" r="1.9" fill="#c39a4f"/>
<circle cx="455.20" cy="811.90" r="1.9" fill="#c39a4f"/>
<circle cx="460.50" cy="811.90" r="1.9" fill="#c39a4f"/>
<circle cx="462.50" cy="811.90" r="1.9" fill="#c39a4f"/>
<circle cx="452.10" cy="806.40" r="1.9" fill="#c39a4f"/>
<circle cx="443.30" cy="809.10" r="1.9" fill="#c39a4f"/>
<circle cx="457.80" cy="749.20" r="1.9" fill="#1fb0b5"/>
<circle cx="440.50" cy="792.70" r="1.9" fill="#1fb0b5"/>
<circle cx="436.80" cy="797.20" r="1.9" fill="#1fb0b5"/>
<circle cx="432.70" cy="806.40" r="1.9" fill="#1fb0b5"/>
<circle cx="438.40" cy="803.80" r="1.9" fill="#1fb0b5"/>
<circle cx="439.90" cy="807.00" r="1.9" fill="#1fb0b5"/>
<circle cx="443.30" cy="803.80" r="1.9" fill="#1fb0b5"/>
<circle cx="444.10" cy="807.40" r="1.9" fill="#1fb0b5"/>
<circle cx="440.10" cy="811.90" r="1.9" fill="#1fb0b5"/>
<circle cx="446.00" cy="811.90" r="1.9" fill="#1fb0b5"/>
<circle cx="452.10" cy="803.40" r="1.9" fill="#1fb0b5"/>
<circle cx="454.80" cy="802.90" r="1.9" fill="#1fb0b5"/>
<circle cx="456.20" cy="802.90" r="1.9" fill="#1fb0b5"/>
<circle cx="464.20" cy="790.70" r="1.9" fill="#1fb0b5"/>
<circle cx="527.80" cy="758.00" r="1.9" fill="#6d6d6d"/>
<text x="534.20" y="759.60" font-size="9.9" text-anchor="start" fill="#1a1a1a">Matched samples</text>
<circle cx="527.80" cy="772.10" r="1.9" fill="#e8685f"/>
<text x="534.20" y="773.70" font-size="9.9" text-anchor="start" fill="#1a1a1a">Corrected samples</text>
<circle cx="527.80" cy="786.20" r="1.9" fill="#c39a4f"/>
<text x="534.20" y="787.80" font-size="9.9" text-anchor="start" fill="#1a1a1a">Internal standard (mixed samples)</text>
<circle cx="527.80" cy="800.30" r="1.9" fill="#1fb0b5"/>
<text x="534.20" y="801.90" font-size="9.9" text-anchor="start" fill="#1a1a1a">Uncorrected samples</text>
</svg>
</body></html>
